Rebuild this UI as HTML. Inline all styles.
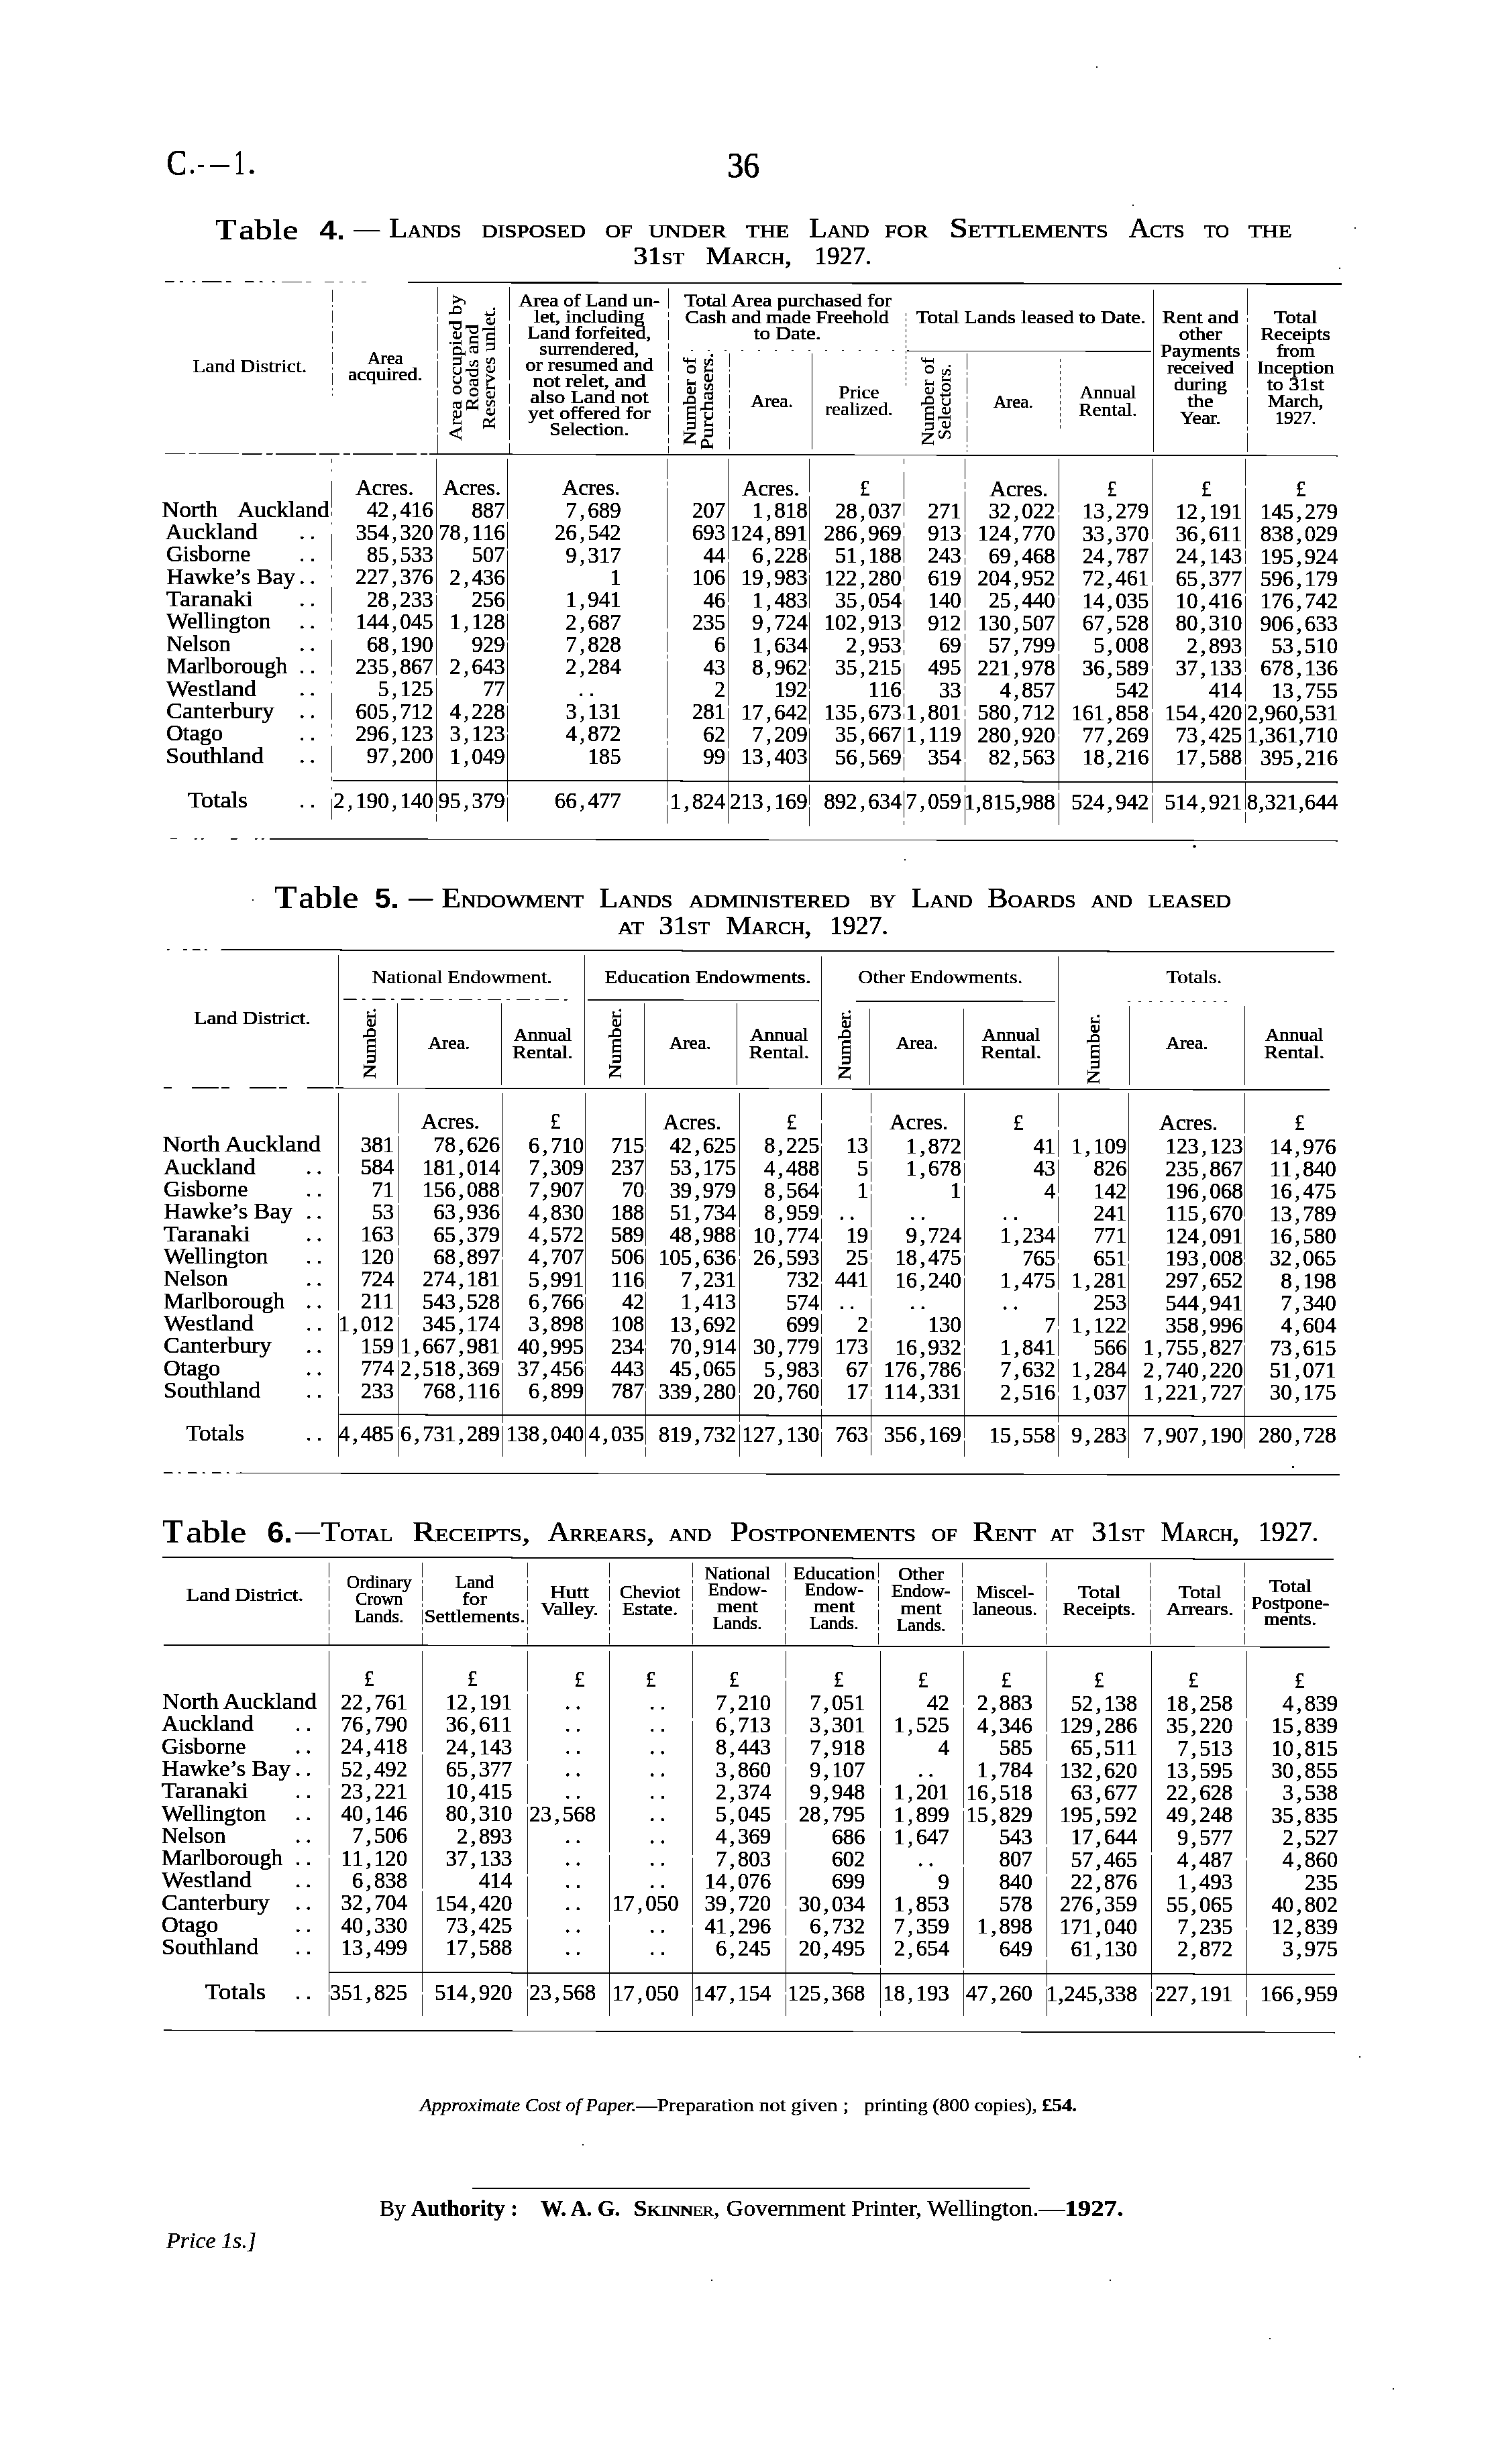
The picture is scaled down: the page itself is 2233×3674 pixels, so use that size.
<!DOCTYPE html>
<html><head><meta charset="utf-8"><title>C.-1 page 36</title>
<style>
html,body{margin:0;padding:0;background:#fff;}
svg{display:block;}
text{font-family:"Liberation Serif",serif;fill:#000;}
.b{stroke:#000;stroke-width:0.6px}
.h{stroke:#000;stroke-width:0.7px}
.l{stroke:#000;stroke-width:0.35px}
.t{stroke:#000;stroke-width:0.8px}
.tb{stroke:none}
.bb{stroke:#000;stroke-width:1.2px}
.v{shape-rendering:crispEdges}
</style></head>
<body>
<svg width="2233" height="3674" viewBox="0 0 2233 3674">
<defs><filter id="bw" x="0" y="0" width="2233" height="3674" filterUnits="userSpaceOnUse" color-interpolation-filters="sRGB"><feComponentTransfer><feFuncA type="discrete" tableValues="0 1"/></feComponentTransfer></filter></defs>
<rect x="0" y="0" width="2233" height="3674" fill="#fff"/>
<g fill="#000" filter="url(#bw)">
<text x="248.5" y="259.5" font-size="53" textLength="30" lengthAdjust="spacingAndGlyphs" class="bb">C</text>
<circle cx="286.5" cy="256" r="2.8"/>
<rect x="295" y="246.5" width="9" height="2.6"/>
<rect x="313" y="246.2" width="29" height="2.6"/>
<text x="349.5" y="259.5" font-size="53" textLength="15" lengthAdjust="spacingAndGlyphs" class="bb">1</text>
<circle cx="375.4" cy="256.3" r="3.3"/>
<text x="1084.5" y="264" font-size="52" textLength="47.5" lengthAdjust="spacingAndGlyphs" class="bb">36</text>
<circle cx="1635" cy="100" r="1.3"/>
<circle cx="1689" cy="306" r="1.5"/>
<circle cx="2020" cy="340" r="1.3"/>
<circle cx="1997" cy="400" r="1.2"/>
<circle cx="1780.6" cy="1262.2" r="2.2"/>
<circle cx="1349" cy="1282" r="1.6"/>
<circle cx="377" cy="1342" r="1.5"/>
<circle cx="1927.4" cy="2187.5" r="1.8"/>
<circle cx="869" cy="3198" r="1.6"/>
<circle cx="2027" cy="3067" r="1.4"/>
<circle cx="1893" cy="3487" r="1.3"/>
<circle cx="2077" cy="3562" r="1.3"/>
<circle cx="1655" cy="3400" r="1.2"/>
<circle cx="1061" cy="3400" r="1"/>
<text x="321" y="357" font-size="45" font-weight="bold" textLength="31.5" lengthAdjust="spacingAndGlyphs" class="tb">T</text>
<text x="356" y="357" font-size="43" textLength="88.5" lengthAdjust="spacingAndGlyphs" class="b">able</text>
<text x="476.2" y="357" font-size="41.5" font-weight="bold" textLength="38.3" lengthAdjust="spacingAndGlyphs" class="tb" style="font-family:'Liberation Sans',sans-serif">4.</text>
<rect x="527" y="343.2" width="39.5" height="2.2"/>
<text x="580.1" y="354" font-size="41.5" textLength="107.4" lengthAdjust="spacingAndGlyphs" class="t"><tspan font-size="41.5">L</tspan><tspan font-size="27.18">ANDS</tspan></text>
<text x="718.2" y="354" font-size="41.5" textLength="154.9" lengthAdjust="spacingAndGlyphs" class="t"><tspan font-size="27.18">DISPOSED</tspan></text>
<text x="902.4" y="354" font-size="41.5" textLength="40.1" lengthAdjust="spacingAndGlyphs" class="t"><tspan font-size="27.18">OF</tspan></text>
<text x="966.7" y="354" font-size="41.5" textLength="116.3" lengthAdjust="spacingAndGlyphs" class="t"><tspan font-size="27.18">UNDER</tspan></text>
<text x="1112.3" y="354" font-size="41.5" textLength="64.1" lengthAdjust="spacingAndGlyphs" class="t"><tspan font-size="27.18">THE</tspan></text>
<text x="1206" y="354" font-size="41.5" textLength="89.5" lengthAdjust="spacingAndGlyphs" class="t"><tspan font-size="41.5">L</tspan><tspan font-size="27.18">AND</tspan></text>
<text x="1318.2" y="354" font-size="41.5" textLength="65.4" lengthAdjust="spacingAndGlyphs" class="t"><tspan font-size="27.18">FOR</tspan></text>
<text x="1415.5" y="354" font-size="41.5" textLength="236.6" lengthAdjust="spacingAndGlyphs" class="t"><tspan font-size="41.5">S</tspan><tspan font-size="27.18">ETTLEMENTS</tspan></text>
<text x="1682.8" y="354" font-size="41.5" textLength="82.8" lengthAdjust="spacingAndGlyphs" class="t"><tspan font-size="41.5">A</tspan><tspan font-size="27.18">CTS</tspan></text>
<text x="1795" y="354" font-size="41.5" textLength="37.4" lengthAdjust="spacingAndGlyphs" class="t"><tspan font-size="27.18">TO</tspan></text>
<text x="1860.4" y="354" font-size="41.5" textLength="65.4" lengthAdjust="spacingAndGlyphs" class="t"><tspan font-size="27.18">THE</tspan></text>
<text x="944" y="394.2" font-size="38.5" textLength="76.1" lengthAdjust="spacingAndGlyphs" class="t"><tspan font-size="38.5">31</tspan><tspan font-size="25.8">ST</tspan></text>
<text x="1052.2" y="394.2" font-size="38.5" textLength="128.1" lengthAdjust="spacingAndGlyphs" class="t"><tspan font-size="38.5">M</tspan><tspan font-size="25.8">ARCH</tspan><tspan font-size="38.5">,</tspan></text>
<text x="1213.7" y="394.2" font-size="38.5" textLength="85.5" lengthAdjust="spacingAndGlyphs" class="t"><tspan font-size="38.5">1927.</tspan></text>
<line x1="246" y1="419.93" x2="546" y2="420.47" stroke="#000" stroke-width="1.3" stroke-dasharray="14 8 5 14 4 10 30 6 8 20"/>
<polygon points="608,419.93 2000,422.44 2000,424.74 608,422.23"/>
<polygon points="1352,522.42 1716,523.08 1716,524.68 1352,524.02"/>
<line x1="1030" y1="522.24" x2="1345" y2="522.81" stroke="#000" stroke-width="1" stroke-dasharray="3 22"/>
<line x1="246" y1="676.43" x2="640" y2="677.14" stroke="#000" stroke-width="1.6" stroke-dasharray="30 6 10 4 60 5"/>
<polygon points="640,676.24 1994,678.68 1994,680.48 640,678.04"/>
<line class="v" x1="495.5" y1="432" x2="495.5" y2="590" stroke="#000" stroke-width="1" stroke-dasharray="18 5 3 5"/>
<line class="v" x1="652.5" y1="428" x2="652.5" y2="676" stroke="#000" stroke-width="1" stroke-dasharray="40 4 8 3"/>
<line class="v" x1="759.5" y1="428" x2="759.5" y2="676" stroke="#000" stroke-width="1" stroke-dasharray="50 5 30 4"/>
<line class="v" x1="996.5" y1="430" x2="996.5" y2="676" stroke="#000" stroke-width="1" stroke-dasharray="30 5 8 4"/>
<line class="v" x1="1087.5" y1="527" x2="1087.5" y2="670" stroke="#000" stroke-width="1" stroke-dasharray="20 4 3 4"/>
<rect class="v" x="1210" y="527" width="1" height="143"/>
<line class="v" x1="1350.5" y1="467" x2="1350.5" y2="578" stroke="#000" stroke-width="1" stroke-dasharray="4 4"/>
<line class="v" x1="1441.5" y1="527" x2="1441.5" y2="674" stroke="#000" stroke-width="1" stroke-dasharray="24 4 4 4"/>
<line class="v" x1="1580.5" y1="535" x2="1580.5" y2="641" stroke="#000" stroke-width="1" stroke-dasharray="5 4"/>
<rect class="v" x="1719" y="432" width="1" height="242"/>
<line class="v" x1="1859.5" y1="430" x2="1859.5" y2="674" stroke="#000" stroke-width="1" stroke-dasharray="40 4 6 4"/>
<text x="287.7" y="554.7" font-size="26.5" textLength="169.6" lengthAdjust="spacingAndGlyphs" class="l">Land District.</text>
<text x="574.4" y="542.6" font-size="26.5" text-anchor="middle" textLength="53.3" lengthAdjust="spacingAndGlyphs" class="h">Area</text>
<text x="574.4" y="567.3" font-size="26.5" text-anchor="middle" textLength="110.7" lengthAdjust="spacingAndGlyphs" class="h">acquired.</text>
<text x="0" y="0" transform="translate(687.7 657) rotate(-90)" font-size="27" textLength="218" lengthAdjust="spacingAndGlyphs" class="l">Area occupied by</text>
<text x="0" y="0" transform="translate(713 613) rotate(-90)" font-size="27" textLength="129.5" lengthAdjust="spacingAndGlyphs" class="l">Roads and</text>
<text x="0" y="0" transform="translate(737.7 640.8) rotate(-90)" font-size="27" textLength="184.3" lengthAdjust="spacingAndGlyphs" class="l">Reserves unlet.</text>
<text x="878.5" y="457.3" font-size="26.5" text-anchor="middle" textLength="210.3" lengthAdjust="spacingAndGlyphs" class="h">Area of Land un-</text>
<text x="878.5" y="481.3" font-size="26.5" text-anchor="middle" textLength="164.3" lengthAdjust="spacingAndGlyphs" class="h">let, including</text>
<text x="878.5" y="504.5" font-size="26.5" text-anchor="middle" textLength="184.3" lengthAdjust="spacingAndGlyphs" class="h">Land forfeited,</text>
<text x="878.5" y="528.5" font-size="26.5" text-anchor="middle" textLength="148.3" lengthAdjust="spacingAndGlyphs" class="h">surrendered,</text>
<text x="878.5" y="553" font-size="26.5" text-anchor="middle" textLength="190.3" lengthAdjust="spacingAndGlyphs" class="h">or resumed and</text>
<text x="878.5" y="576.5" font-size="26.5" text-anchor="middle" textLength="168.3" lengthAdjust="spacingAndGlyphs" class="h">not relet, and</text>
<text x="878.5" y="600.5" font-size="26.5" text-anchor="middle" textLength="176.3" lengthAdjust="spacingAndGlyphs" class="h">also Land not</text>
<text x="878.5" y="624.5" font-size="26.5" text-anchor="middle" textLength="182.3" lengthAdjust="spacingAndGlyphs" class="h">yet offered for</text>
<text x="878.5" y="648.5" font-size="26.5" text-anchor="middle" textLength="118.3" lengthAdjust="spacingAndGlyphs" class="h">Selection.</text>
<text x="1174.7" y="456.6" font-size="26.5" text-anchor="middle" textLength="309" lengthAdjust="spacingAndGlyphs" class="h">Total Area purchased for</text>
<text x="1173.3" y="481.5" font-size="26.5" text-anchor="middle" textLength="303.5" lengthAdjust="spacingAndGlyphs" class="h">Cash and made Freehold</text>
<text x="1173.7" y="505.5" font-size="26.5" text-anchor="middle" textLength="100" lengthAdjust="spacingAndGlyphs" class="h">to Date.</text>
<text x="0" y="0" transform="translate(1037 663.8) rotate(-90)" font-size="27" textLength="130.6" lengthAdjust="spacingAndGlyphs" class="h">Number of</text>
<text x="0" y="0" transform="translate(1062.5 671.05) rotate(-90)" font-size="27" textLength="145.3" lengthAdjust="spacingAndGlyphs" class="h">Purchasers.</text>
<text x="1150.7" y="606.8" font-size="26.5" text-anchor="middle" textLength="63" lengthAdjust="spacingAndGlyphs" class="h">Area.</text>
<text x="1280.5" y="593.8" font-size="26.5" text-anchor="middle" textLength="60" lengthAdjust="spacingAndGlyphs" class="l">Price</text>
<text x="1280.5" y="618.8" font-size="26.5" text-anchor="middle" textLength="100.6" lengthAdjust="spacingAndGlyphs" class="l">realized.</text>
<text x="1536.8" y="482.1" font-size="26.5" text-anchor="middle" textLength="342.5" lengthAdjust="spacingAndGlyphs" class="h">Total Lands leased to Date.</text>
<text x="0" y="0" transform="translate(1392 665) rotate(-90)" font-size="27" textLength="132" lengthAdjust="spacingAndGlyphs" class="l">Number of</text>
<text x="0" y="0" transform="translate(1416.6 656) rotate(-90)" font-size="27" textLength="114" lengthAdjust="spacingAndGlyphs" class="l">Selectors.</text>
<text x="1510.4" y="607.7" font-size="26.5" text-anchor="middle" textLength="59" lengthAdjust="spacingAndGlyphs" class="h">Area.</text>
<text x="1651.5" y="593.8" font-size="26.5" text-anchor="middle" textLength="84" lengthAdjust="spacingAndGlyphs" class="l">Annual</text>
<text x="1651.5" y="620.3" font-size="26.5" text-anchor="middle" textLength="87" lengthAdjust="spacingAndGlyphs" class="l">Rental.</text>
<text x="1789.5" y="482" font-size="26.5" text-anchor="middle" textLength="114" lengthAdjust="spacingAndGlyphs" class="h">Rent and</text>
<text x="1789.5" y="507.03" font-size="26.5" text-anchor="middle" textLength="64" lengthAdjust="spacingAndGlyphs" class="h">other</text>
<text x="1789.5" y="532.06" font-size="26.5" text-anchor="middle" textLength="119" lengthAdjust="spacingAndGlyphs" class="h">Payments</text>
<text x="1789.5" y="557.09" font-size="26.5" text-anchor="middle" textLength="99.5" lengthAdjust="spacingAndGlyphs" class="h">received</text>
<text x="1789.5" y="582.12" font-size="26.5" text-anchor="middle" textLength="79" lengthAdjust="spacingAndGlyphs" class="h">during</text>
<text x="1789.5" y="607.15" font-size="26.5" text-anchor="middle" textLength="38.5" lengthAdjust="spacingAndGlyphs" class="h">the</text>
<text x="1789.5" y="632.18" font-size="26.5" text-anchor="middle" textLength="61" lengthAdjust="spacingAndGlyphs" class="h">Year.</text>
<text x="1931.3" y="482" font-size="26.5" text-anchor="middle" textLength="64" lengthAdjust="spacingAndGlyphs" class="h">Total</text>
<text x="1931.3" y="507.03" font-size="26.5" text-anchor="middle" textLength="103.6" lengthAdjust="spacingAndGlyphs" class="h">Receipts</text>
<text x="1931.3" y="532.06" font-size="26.5" text-anchor="middle" textLength="57" lengthAdjust="spacingAndGlyphs" class="h">from</text>
<text x="1931.3" y="557.09" font-size="26.5" text-anchor="middle" textLength="114.6" lengthAdjust="spacingAndGlyphs" class="h">Inception</text>
<text x="1931.3" y="582.12" font-size="26.5" text-anchor="middle" textLength="85" lengthAdjust="spacingAndGlyphs" class="h">to 31st</text>
<text x="1931.3" y="607.15" font-size="26.5" text-anchor="middle" textLength="83" lengthAdjust="spacingAndGlyphs" class="h">March,</text>
<text x="1931.3" y="632.18" font-size="26.5" text-anchor="middle" textLength="61" lengthAdjust="spacingAndGlyphs" class="h">1927.</text>
<text x="530.5" y="737.84" font-size="33" textLength="86.2" lengthAdjust="spacingAndGlyphs" class="b">Acres.</text>
<text x="660.6" y="738.08" font-size="33" textLength="86.1" lengthAdjust="spacingAndGlyphs" class="b">Acres.</text>
<text x="838" y="738.4" font-size="33" textLength="86.3" lengthAdjust="spacingAndGlyphs" class="b">Acres.</text>
<text x="1106.5" y="738.88" font-size="33" textLength="85" lengthAdjust="spacingAndGlyphs" class="b">Acres.</text>
<text x="1475.4" y="739.55" font-size="33" textLength="86.8" lengthAdjust="spacingAndGlyphs" class="b">Acres.</text>
<text x="1282" y="739.2" font-size="33" textLength="14.5" lengthAdjust="spacingAndGlyphs" class="b">£</text>
<text x="1650.6" y="739.86" font-size="33" textLength="14.5" lengthAdjust="spacingAndGlyphs" class="b">£</text>
<text x="1791" y="740.11" font-size="33" textLength="14.5" lengthAdjust="spacingAndGlyphs" class="b">£</text>
<text x="1932" y="740.37" font-size="33" textLength="14.5" lengthAdjust="spacingAndGlyphs" class="b">£</text>
<text x="241.5" y="770.62" font-size="33" textLength="83" lengthAdjust="spacingAndGlyphs" class="b">North</text>
<text x="354" y="770.83" font-size="33" textLength="136.5" lengthAdjust="spacingAndGlyphs" class="b">Auckland</text>
<text x="546.8 563.3 583.92 596.3 612.8 629.3" y="771.35" font-size="33" class="b">42,416</text>
<text x="703.3 719.8 736.3" y="771.54" font-size="33" class="b">887</text>
<text x="843.3 863.92 876.3 892.8 909.3" y="771.86" font-size="33" class="b">7,689</text>
<text x="1031.8 1048.3 1064.8" y="772.13" font-size="33" class="b">207</text>
<text x="1121.3 1141.92 1154.3 1170.8 1187.3" y="772.36" font-size="33" class="b">1,818</text>
<text x="1244.8 1261.3 1281.92 1294.3 1310.8 1327.3" y="772.61" font-size="33" class="b">28,037</text>
<text x="1383.3 1399.8 1416.3" y="772.77" font-size="33" class="b">271</text>
<text x="1473.8 1490.3 1510.92 1523.3 1539.8 1556.3" y="773.02" font-size="33" class="b">32,022</text>
<text x="1613.5 1630 1650.62 1663 1679.5 1696" y="773.27" font-size="33" class="b">13,279</text>
<text x="1752.5 1769 1789.62 1802 1818.5 1835" y="773.52" font-size="33" class="b">12,191</text>
<text x="1878.8 1895.3 1911.8 1932.42 1944.8 1961.3 1977.8" y="773.78" font-size="33" class="b">145,279</text>
<text x="246.7" y="803.99" font-size="33" textLength="136.8" lengthAdjust="spacingAndGlyphs" class="b">Auckland</text>
<circle cx="450.3" cy="801.76" r="2.3"/>
<circle cx="465.8" cy="801.76" r="2.3"/>
<text x="530.3 546.8 563.3 583.92 596.3 612.8 629.3" y="804.71" font-size="33" class="b">354,320</text>
<text x="653.8 670.3 690.92 703.3 719.8 736.3" y="804.9" font-size="33" class="b">78,116</text>
<text x="826.8 843.3 863.92 876.3 892.8 909.3" y="805.22" font-size="33" class="b">26,542</text>
<text x="1031.8 1048.3 1064.8" y="805.49" font-size="33" class="b">693</text>
<text x="1088.3 1104.8 1121.3 1141.92 1154.3 1170.8 1187.3" y="805.72" font-size="33" class="b">124,891</text>
<text x="1228.3 1244.8 1261.3 1281.92 1294.3 1310.8 1327.3" y="805.97" font-size="33" class="b">286,969</text>
<text x="1383.3 1399.8 1416.3" y="806.13" font-size="33" class="b">913</text>
<text x="1457.3 1473.8 1490.3 1510.92 1523.3 1539.8 1556.3" y="806.38" font-size="33" class="b">124,770</text>
<text x="1613.5 1630 1650.62 1663 1679.5 1696" y="806.63" font-size="33" class="b">33,370</text>
<text x="1752.5 1769 1789.62 1802 1818.5 1835" y="806.88" font-size="33" class="b">36,611</text>
<text x="1878.8 1895.3 1911.8 1932.42 1944.8 1961.3 1977.8" y="807.14" font-size="33" class="b">838,029</text>
<text x="248" y="837.36" font-size="33" textLength="125.5" lengthAdjust="spacingAndGlyphs" class="b">Gisborne</text>
<circle cx="450.3" cy="835.12" r="2.3"/>
<circle cx="465.8" cy="835.12" r="2.3"/>
<text x="546.8 563.3 583.92 596.3 612.8 629.3" y="838.07" font-size="33" class="b">85,533</text>
<text x="703.3 719.8 736.3" y="838.26" font-size="33" class="b">507</text>
<text x="843.3 863.92 876.3 892.8 909.3" y="838.58" font-size="33" class="b">9,317</text>
<text x="1048.3 1064.8" y="838.85" font-size="33" class="b">44</text>
<text x="1121.3 1141.92 1154.3 1170.8 1187.3" y="839.08" font-size="33" class="b">6,228</text>
<text x="1244.8 1261.3 1281.92 1294.3 1310.8 1327.3" y="839.33" font-size="33" class="b">51,188</text>
<text x="1383.3 1399.8 1416.3" y="839.49" font-size="33" class="b">243</text>
<text x="1473.8 1490.3 1510.92 1523.3 1539.8 1556.3" y="839.74" font-size="33" class="b">69,468</text>
<text x="1613.5 1630 1650.62 1663 1679.5 1696" y="839.99" font-size="33" class="b">24,787</text>
<text x="1752.5 1769 1789.62 1802 1818.5 1835" y="840.24" font-size="33" class="b">24,143</text>
<text x="1878.8 1895.3 1911.8 1932.42 1944.8 1961.3 1977.8" y="840.5" font-size="33" class="b">195,924</text>
<text x="248" y="870.72" font-size="33" textLength="192.3" lengthAdjust="spacingAndGlyphs" class="b">Hawke’s Bay</text>
<circle cx="450.3" cy="868.48" r="2.3"/>
<circle cx="465.8" cy="868.48" r="2.3"/>
<text x="530.3 546.8 563.3 583.92 596.3 612.8 629.3" y="871.43" font-size="33" class="b">227,376</text>
<text x="670.3 690.92 703.3 719.8 736.3" y="871.62" font-size="33" class="b">2,436</text>
<text x="909.3" y="871.94" font-size="33" class="b">1</text>
<text x="1031.8 1048.3 1064.8" y="872.21" font-size="33" class="b">106</text>
<text x="1104.8 1121.3 1141.92 1154.3 1170.8 1187.3" y="872.44" font-size="33" class="b">19,983</text>
<text x="1228.3 1244.8 1261.3 1281.92 1294.3 1310.8 1327.3" y="872.69" font-size="33" class="b">122,280</text>
<text x="1383.3 1399.8 1416.3" y="872.85" font-size="33" class="b">619</text>
<text x="1457.3 1473.8 1490.3 1510.92 1523.3 1539.8 1556.3" y="873.1" font-size="33" class="b">204,952</text>
<text x="1613.5 1630 1650.62 1663 1679.5 1696" y="873.35" font-size="33" class="b">72,461</text>
<text x="1752.5 1769 1789.62 1802 1818.5 1835" y="873.6" font-size="33" class="b">65,377</text>
<text x="1878.8 1895.3 1911.8 1932.42 1944.8 1961.3 1977.8" y="873.86" font-size="33" class="b">596,179</text>
<text x="248" y="904.08" font-size="33" textLength="128.9" lengthAdjust="spacingAndGlyphs" class="b">Taranaki</text>
<circle cx="450.3" cy="901.84" r="2.3"/>
<circle cx="465.8" cy="901.84" r="2.3"/>
<text x="546.8 563.3 583.92 596.3 612.8 629.3" y="904.79" font-size="33" class="b">28,233</text>
<text x="703.3 719.8 736.3" y="904.98" font-size="33" class="b">256</text>
<text x="843.3 863.92 876.3 892.8 909.3" y="905.3" font-size="33" class="b">1,941</text>
<text x="1048.3 1064.8" y="905.57" font-size="33" class="b">46</text>
<text x="1121.3 1141.92 1154.3 1170.8 1187.3" y="905.8" font-size="33" class="b">1,483</text>
<text x="1244.8 1261.3 1281.92 1294.3 1310.8 1327.3" y="906.05" font-size="33" class="b">35,054</text>
<text x="1383.3 1399.8 1416.3" y="906.21" font-size="33" class="b">140</text>
<text x="1473.8 1490.3 1510.92 1523.3 1539.8 1556.3" y="906.46" font-size="33" class="b">25,440</text>
<text x="1613.5 1630 1650.62 1663 1679.5 1696" y="906.71" font-size="33" class="b">14,035</text>
<text x="1752.5 1769 1789.62 1802 1818.5 1835" y="906.96" font-size="33" class="b">10,416</text>
<text x="1878.8 1895.3 1911.8 1932.42 1944.8 1961.3 1977.8" y="907.22" font-size="33" class="b">176,742</text>
<text x="248" y="937.44" font-size="33" textLength="155.6" lengthAdjust="spacingAndGlyphs" class="b">Wellington</text>
<circle cx="450.3" cy="935.2" r="2.3"/>
<circle cx="465.8" cy="935.2" r="2.3"/>
<text x="530.3 546.8 563.3 583.92 596.3 612.8 629.3" y="938.15" font-size="33" class="b">144,045</text>
<text x="670.3 690.92 703.3 719.8 736.3" y="938.34" font-size="33" class="b">1,128</text>
<text x="843.3 863.92 876.3 892.8 909.3" y="938.65" font-size="33" class="b">2,687</text>
<text x="1031.8 1048.3 1064.8" y="938.93" font-size="33" class="b">235</text>
<text x="1121.3 1141.92 1154.3 1170.8 1187.3" y="939.16" font-size="33" class="b">9,724</text>
<text x="1228.3 1244.8 1261.3 1281.92 1294.3 1310.8 1327.3" y="939.41" font-size="33" class="b">102,913</text>
<text x="1383.3 1399.8 1416.3" y="939.57" font-size="33" class="b">912</text>
<text x="1457.3 1473.8 1490.3 1510.92 1523.3 1539.8 1556.3" y="939.82" font-size="33" class="b">130,507</text>
<text x="1613.5 1630 1650.62 1663 1679.5 1696" y="940.07" font-size="33" class="b">67,528</text>
<text x="1752.5 1769 1789.62 1802 1818.5 1835" y="940.32" font-size="33" class="b">80,310</text>
<text x="1878.8 1895.3 1911.8 1932.42 1944.8 1961.3 1977.8" y="940.58" font-size="33" class="b">906,633</text>
<text x="248" y="970.8" font-size="33" textLength="95.5" lengthAdjust="spacingAndGlyphs" class="b">Nelson</text>
<circle cx="450.3" cy="968.56" r="2.3"/>
<circle cx="465.8" cy="968.56" r="2.3"/>
<text x="546.8 563.3 583.92 596.3 612.8 629.3" y="971.51" font-size="33" class="b">68,190</text>
<text x="703.3 719.8 736.3" y="971.7" font-size="33" class="b">929</text>
<text x="843.3 863.92 876.3 892.8 909.3" y="972.01" font-size="33" class="b">7,828</text>
<text x="1064.8" y="972.29" font-size="33" class="b">6</text>
<text x="1121.3 1141.92 1154.3 1170.8 1187.3" y="972.52" font-size="33" class="b">1,634</text>
<text x="1261.3 1281.92 1294.3 1310.8 1327.3" y="972.77" font-size="33" class="b">2,953</text>
<text x="1399.8 1416.3" y="972.93" font-size="33" class="b">69</text>
<text x="1473.8 1490.3 1510.92 1523.3 1539.8 1556.3" y="973.18" font-size="33" class="b">57,799</text>
<text x="1630 1650.62 1663 1679.5 1696" y="973.43" font-size="33" class="b">5,008</text>
<text x="1769 1789.62 1802 1818.5 1835" y="973.68" font-size="33" class="b">2,893</text>
<text x="1895.3 1911.8 1932.42 1944.8 1961.3 1977.8" y="973.94" font-size="33" class="b">53,510</text>
<text x="248" y="1004.16" font-size="33" textLength="180.3" lengthAdjust="spacingAndGlyphs" class="b">Marlborough</text>
<circle cx="450.3" cy="1001.92" r="2.3"/>
<circle cx="465.8" cy="1001.92" r="2.3"/>
<text x="530.3 546.8 563.3 583.92 596.3 612.8 629.3" y="1004.87" font-size="33" class="b">235,867</text>
<text x="670.3 690.92 703.3 719.8 736.3" y="1005.06" font-size="33" class="b">2,643</text>
<text x="843.3 863.92 876.3 892.8 909.3" y="1005.38" font-size="33" class="b">2,284</text>
<text x="1048.3 1064.8" y="1005.65" font-size="33" class="b">43</text>
<text x="1121.3 1141.92 1154.3 1170.8 1187.3" y="1005.88" font-size="33" class="b">8,962</text>
<text x="1244.8 1261.3 1281.92 1294.3 1310.8 1327.3" y="1006.13" font-size="33" class="b">35,215</text>
<text x="1383.3 1399.8 1416.3" y="1006.29" font-size="33" class="b">495</text>
<text x="1457.3 1473.8 1490.3 1510.92 1523.3 1539.8 1556.3" y="1006.54" font-size="33" class="b">221,978</text>
<text x="1613.5 1630 1650.62 1663 1679.5 1696" y="1006.79" font-size="33" class="b">36,589</text>
<text x="1752.5 1769 1789.62 1802 1818.5 1835" y="1007.04" font-size="33" class="b">37,133</text>
<text x="1878.8 1895.3 1911.8 1932.42 1944.8 1961.3 1977.8" y="1007.3" font-size="33" class="b">678,136</text>
<text x="248" y="1037.52" font-size="33" textLength="134.2" lengthAdjust="spacingAndGlyphs" class="b">Westland</text>
<circle cx="450.3" cy="1035.28" r="2.3"/>
<circle cx="465.8" cy="1035.28" r="2.3"/>
<text x="563.3 583.92 596.3 612.8 629.3" y="1038.23" font-size="33" class="b">5,125</text>
<text x="719.8 736.3" y="1038.42" font-size="33" class="b">77</text>
<circle cx="866.3" cy="1036.03" r="2.3"/>
<circle cx="881.8" cy="1036.03" r="2.3"/>
<text x="1064.8" y="1039.01" font-size="33" class="b">2</text>
<text x="1154.3 1170.8 1187.3" y="1039.24" font-size="33" class="b">192</text>
<text x="1294.3 1310.8 1327.3" y="1039.49" font-size="33" class="b">116</text>
<text x="1399.8 1416.3" y="1039.65" font-size="33" class="b">33</text>
<text x="1490.3 1510.92 1523.3 1539.8 1556.3" y="1039.9" font-size="33" class="b">4,857</text>
<text x="1663 1679.5 1696" y="1040.15" font-size="33" class="b">542</text>
<text x="1802 1818.5 1835" y="1040.4" font-size="33" class="b">414</text>
<text x="1895.3 1911.8 1932.42 1944.8 1961.3 1977.8" y="1040.66" font-size="33" class="b">13,755</text>
<text x="248" y="1070.88" font-size="33" textLength="160.9" lengthAdjust="spacingAndGlyphs" class="b">Canterbury</text>
<circle cx="450.3" cy="1068.64" r="2.3"/>
<circle cx="465.8" cy="1068.64" r="2.3"/>
<text x="530.3 546.8 563.3 583.92 596.3 612.8 629.3" y="1071.59" font-size="33" class="b">605,712</text>
<text x="670.3 690.92 703.3 719.8 736.3" y="1071.78" font-size="33" class="b">4,228</text>
<text x="843.3 863.92 876.3 892.8 909.3" y="1072.1" font-size="33" class="b">3,131</text>
<text x="1031.8 1048.3 1064.8" y="1072.37" font-size="33" class="b">281</text>
<text x="1104.8 1121.3 1141.92 1154.3 1170.8 1187.3" y="1072.6" font-size="33" class="b">17,642</text>
<text x="1228.3 1244.8 1261.3 1281.92 1294.3 1310.8 1327.3" y="1072.85" font-size="33" class="b">135,673</text>
<text x="1350.3 1370.92 1383.3 1399.8 1416.3" y="1073.01" font-size="33" class="b">1,801</text>
<text x="1457.3 1473.8 1490.3 1510.92 1523.3 1539.8 1556.3" y="1073.26" font-size="33" class="b">580,712</text>
<text x="1597 1613.5 1630 1650.62 1663 1679.5 1696" y="1073.51" font-size="33" class="b">161,858</text>
<text x="1736 1752.5 1769 1789.62 1802 1818.5 1835" y="1073.76" font-size="33" class="b">154,420</text>
<text x="1858.8 1876.17 1885.3 1901.8 1918.3 1935.67 1944.8 1961.3 1977.8" y="1074.02" font-size="33" class="b">2,960,531</text>
<text x="248" y="1104.24" font-size="33" textLength="84.1" lengthAdjust="spacingAndGlyphs" class="b">Otago</text>
<circle cx="450.3" cy="1102" r="2.3"/>
<circle cx="465.8" cy="1102" r="2.3"/>
<text x="530.3 546.8 563.3 583.92 596.3 612.8 629.3" y="1104.95" font-size="33" class="b">296,123</text>
<text x="670.3 690.92 703.3 719.8 736.3" y="1105.14" font-size="33" class="b">3,123</text>
<text x="843.3 863.92 876.3 892.8 909.3" y="1105.45" font-size="33" class="b">4,872</text>
<text x="1048.3 1064.8" y="1105.73" font-size="33" class="b">62</text>
<text x="1121.3 1141.92 1154.3 1170.8 1187.3" y="1105.96" font-size="33" class="b">7,209</text>
<text x="1244.8 1261.3 1281.92 1294.3 1310.8 1327.3" y="1106.21" font-size="33" class="b">35,667</text>
<text x="1350.3 1370.92 1383.3 1399.8 1416.3" y="1106.37" font-size="33" class="b">1,119</text>
<text x="1457.3 1473.8 1490.3 1510.92 1523.3 1539.8 1556.3" y="1106.62" font-size="33" class="b">280,920</text>
<text x="1613.5 1630 1650.62 1663 1679.5 1696" y="1106.87" font-size="33" class="b">77,269</text>
<text x="1752.5 1769 1789.62 1802 1818.5 1835" y="1107.12" font-size="33" class="b">73,425</text>
<text x="1858.8 1876.17 1885.3 1901.8 1918.3 1935.67 1944.8 1961.3 1977.8" y="1107.38" font-size="33" class="b">1,361,710</text>
<text x="247.3" y="1137.6" font-size="33" textLength="145.4" lengthAdjust="spacingAndGlyphs" class="b">Southland</text>
<circle cx="450.3" cy="1135.36" r="2.3"/>
<circle cx="465.8" cy="1135.36" r="2.3"/>
<text x="546.8 563.3 583.92 596.3 612.8 629.3" y="1138.31" font-size="33" class="b">97,200</text>
<text x="670.3 690.92 703.3 719.8 736.3" y="1138.5" font-size="33" class="b">1,049</text>
<text x="876.3 892.8 909.3" y="1138.82" font-size="33" class="b">185</text>
<text x="1048.3 1064.8" y="1139.09" font-size="33" class="b">99</text>
<text x="1104.8 1121.3 1141.92 1154.3 1170.8 1187.3" y="1139.32" font-size="33" class="b">13,403</text>
<text x="1244.8 1261.3 1281.92 1294.3 1310.8 1327.3" y="1139.57" font-size="33" class="b">56,569</text>
<text x="1383.3 1399.8 1416.3" y="1139.73" font-size="33" class="b">354</text>
<text x="1473.8 1490.3 1510.92 1523.3 1539.8 1556.3" y="1139.98" font-size="33" class="b">82,563</text>
<text x="1613.5 1630 1650.62 1663 1679.5 1696" y="1140.23" font-size="33" class="b">18,216</text>
<text x="1752.5 1769 1789.62 1802 1818.5 1835" y="1140.48" font-size="33" class="b">17,588</text>
<text x="1878.8 1895.3 1911.8 1932.42 1944.8 1961.3 1977.8" y="1140.74" font-size="33" class="b">395,216</text>
<text x="280" y="1204.29" font-size="33" textLength="89.2" lengthAdjust="spacingAndGlyphs" class="b">Totals</text>
<circle cx="450.3" cy="1202" r="2.3"/>
<circle cx="465.8" cy="1202" r="2.3"/>
<text x="497.3 517.92 530.3 546.8 563.3 583.92 596.3 612.8 629.3" y="1204.95" font-size="33" class="b">2,190,140</text>
<text x="653.8 670.3 690.92 703.3 719.8 736.3" y="1205.14" font-size="33" class="b">95,379</text>
<text x="826.8 843.3 863.92 876.3 892.8 909.3" y="1205.45" font-size="33" class="b">66,477</text>
<text x="998.8 1019.42 1031.8 1048.3 1064.8" y="1205.73" font-size="33" class="b">1,824</text>
<text x="1088.3 1104.8 1121.3 1141.92 1154.3 1170.8 1187.3" y="1205.96" font-size="33" class="b">213,169</text>
<text x="1228.3 1244.8 1261.3 1281.92 1294.3 1310.8 1327.3" y="1206.21" font-size="33" class="b">892,634</text>
<text x="1350.3 1370.92 1383.3 1399.8 1416.3" y="1206.37" font-size="33" class="b">7,059</text>
<text x="1437.3 1454.67 1463.8 1480.3 1496.8 1514.17 1523.3 1539.8 1556.3" y="1206.62" font-size="33" class="b">1,815,988</text>
<text x="1597 1613.5 1630 1650.62 1663 1679.5 1696" y="1206.87" font-size="33" class="b">524,942</text>
<text x="1736 1752.5 1769 1789.62 1802 1818.5 1835" y="1207.12" font-size="33" class="b">514,921</text>
<text x="1858.8 1876.17 1885.3 1901.8 1918.3 1935.67 1944.8 1961.3 1977.8" y="1207.38" font-size="33" class="b">8,321,644</text>
<polygon points="496,1162.68 1994,1165.38 1994,1167.38 496,1164.68"/>
<line x1="254" y1="1250.65" x2="402" y2="1250.91" stroke="#000" stroke-width="1.4" stroke-dasharray="10 26 4 6 4 40"/>
<polygon points="402,1250.11 1994,1252.98 1994,1254.58 402,1251.71"/>
<line class="v" x1="494.5" y1="684" x2="494.5" y2="1222" stroke="#000" stroke-width="1" stroke-dasharray="6 10 3 14 40 6"/>
<line class="v" x1="650.5" y1="684" x2="650.5" y2="1225" stroke="#000" stroke-width="1" stroke-dasharray="200 3 120 4"/>
<line class="v" x1="756.5" y1="684" x2="756.5" y2="1225" stroke="#000" stroke-width="1" stroke-dasharray="90 4 40 3"/>
<line class="v" x1="994.5" y1="684" x2="994.5" y2="1228" stroke="#000" stroke-width="1" stroke-dasharray="30 4 6 4 80 5"/>
<line class="v" x1="1085.5" y1="684" x2="1085.5" y2="1228" stroke="#000" stroke-width="1" stroke-dasharray="150 4 60 4"/>
<line class="v" x1="1206.5" y1="684" x2="1206.5" y2="1232" stroke="#000" stroke-width="1" stroke-dasharray="50 6 80 4 30 3"/>
<line class="v" x1="1347.5" y1="684" x2="1347.5" y2="1230" stroke="#000" stroke-width="1" stroke-dasharray="8 12 40 5 20 10"/>
<line class="v" x1="1438.5" y1="684" x2="1438.5" y2="1230" stroke="#000" stroke-width="1" stroke-dasharray="30 5 10 4 60 4"/>
<line class="v" x1="1578.5" y1="684" x2="1578.5" y2="1230" stroke="#000" stroke-width="1" stroke-dasharray="80 4 120 3"/>
<line class="v" x1="1717.5" y1="684" x2="1717.5" y2="1227" stroke="#000" stroke-width="1" stroke-dasharray="120 4 60 5"/>
<line class="v" x1="1856.5" y1="684" x2="1856.5" y2="1227" stroke="#000" stroke-width="1" stroke-dasharray="40 4 90 3 20 4"/>
<text x="409.1" y="1354.3" font-size="49" font-weight="bold" textLength="33.4" lengthAdjust="spacingAndGlyphs" class="tb">T</text>
<text x="444.9" y="1354.3" font-size="46" textLength="89.3" lengthAdjust="spacingAndGlyphs" class="b">able</text>
<text x="558.4" y="1354.3" font-size="42.5" font-weight="bold" textLength="36.1" lengthAdjust="spacingAndGlyphs" class="tb" style="font-family:'Liberation Sans',sans-serif">5.</text>
<rect x="609" y="1340.5" width="36.5" height="2.2"/>
<text x="658.4" y="1352.5" font-size="41.5" textLength="211.9" lengthAdjust="spacingAndGlyphs" class="t"><tspan font-size="41.5">E</tspan><tspan font-size="27.18">NDOWMENT</tspan></text>
<text x="893.4" y="1352.5" font-size="41.5" textLength="108.8" lengthAdjust="spacingAndGlyphs" class="t"><tspan font-size="41.5">L</tspan><tspan font-size="27.18">ANDS</tspan></text>
<text x="1026.7" y="1352.5" font-size="41.5" textLength="240.3" lengthAdjust="spacingAndGlyphs" class="t"><tspan font-size="27.18">ADMINISTERED</tspan></text>
<text x="1297" y="1352.5" font-size="41.5" textLength="37.8" lengthAdjust="spacingAndGlyphs" class="t"><tspan font-size="27.18">BY</tspan></text>
<text x="1358.8" y="1352.5" font-size="41.5" textLength="90.8" lengthAdjust="spacingAndGlyphs" class="t"><tspan font-size="41.5">L</tspan><tspan font-size="27.18">AND</tspan></text>
<text x="1472.3" y="1352.5" font-size="41.5" textLength="131.2" lengthAdjust="spacingAndGlyphs" class="t"><tspan font-size="41.5">B</tspan><tspan font-size="27.18">OARDS</tspan></text>
<text x="1626.4" y="1352.5" font-size="41.5" textLength="61.7" lengthAdjust="spacingAndGlyphs" class="t"><tspan font-size="27.18">AND</tspan></text>
<text x="1711.9" y="1352.5" font-size="41.5" textLength="123.4" lengthAdjust="spacingAndGlyphs" class="t"><tspan font-size="27.18">LEASED</tspan></text>
<text x="920.8" y="1392.6" font-size="40" textLength="39.5" lengthAdjust="spacingAndGlyphs" class="t"><tspan font-size="26.8">AT</tspan></text>
<text x="982.2" y="1392.6" font-size="40" textLength="76" lengthAdjust="spacingAndGlyphs" class="t"><tspan font-size="40">31</tspan><tspan font-size="26.8">ST</tspan></text>
<text x="1082.3" y="1392.6" font-size="40" textLength="127.6" lengthAdjust="spacingAndGlyphs" class="t"><tspan font-size="40">M</tspan><tspan font-size="26.8">ARCH</tspan><tspan font-size="40">,</tspan></text>
<text x="1236.9" y="1392.6" font-size="40" textLength="87.1" lengthAdjust="spacingAndGlyphs" class="t"><tspan font-size="40">1927.</tspan></text>
<line x1="249" y1="1415.94" x2="330" y2="1416.08" stroke="#000" stroke-width="1.3" stroke-dasharray="4 20 6 8 12 6"/>
<polygon points="330,1415.18 1989,1418.17 1989,1420.17 330,1417.18"/>
<line x1="512" y1="1490.11" x2="850" y2="1490.72" stroke="#000" stroke-width="1.4" stroke-dasharray="20 8 5 10"/>
<polygon points="876,1490.17 1221,1490.79 1221,1492.39 876,1491.77"/>
<polygon points="1276,1492.14 1573,1492.67 1573,1494.17 1276,1493.64"/>
<line x1="1681" y1="1493.22" x2="1830" y2="1493.48" stroke="#000" stroke-width="1" stroke-dasharray="4 12"/>
<line x1="244" y1="1621.83" x2="500" y2="1622.29" stroke="#000" stroke-width="1.6" stroke-dasharray="12 30 40 4"/>
<polygon points="500,1621.39 1982,1624.06 1982,1625.86 500,1623.19"/>
<rect class="v" x="504" y="1424" width="1" height="194"/>
<rect class="v" x="592" y="1496" width="1" height="122"/>
<rect class="v" x="747" y="1496" width="1" height="122"/>
<rect class="v" x="871" y="1424" width="1" height="194"/>
<rect class="v" x="960" y="1496" width="1" height="122"/>
<rect class="v" x="1098" y="1496" width="1" height="122"/>
<rect class="v" x="1224" y="1426" width="1" height="192"/>
<rect class="v" x="1296" y="1504" width="1" height="114"/>
<rect class="v" x="1436" y="1504" width="1" height="114"/>
<rect class="v" x="1577" y="1426" width="1" height="192"/>
<rect class="v" x="1683" y="1500" width="1" height="118"/>
<rect class="v" x="1855" y="1500" width="1" height="118"/>
<text x="289.3" y="1527.4" font-size="26.5" textLength="173.8" lengthAdjust="spacingAndGlyphs" class="h">Land District.</text>
<text x="688.6" y="1466.1" font-size="26.5" text-anchor="middle" textLength="268.4" lengthAdjust="spacingAndGlyphs" class="l">National Endowment.</text>
<text x="1055" y="1466.1" font-size="26.5" text-anchor="middle" textLength="307.2" lengthAdjust="spacingAndGlyphs" class="h">Education Endowments.</text>
<text x="1401.9" y="1466" font-size="26.5" text-anchor="middle" textLength="245.1" lengthAdjust="spacingAndGlyphs" class="l">Other Endowments.</text>
<text x="1780" y="1466" font-size="26.5" text-anchor="middle" textLength="83.2" lengthAdjust="spacingAndGlyphs" class="l">Totals.</text>
<text x="0" y="0" transform="translate(560.2 1608.5) rotate(-90)" font-size="27" textLength="106" lengthAdjust="spacingAndGlyphs" class="h">Number.</text>
<text x="0" y="0" transform="translate(926.2 1608.5) rotate(-90)" font-size="27" textLength="106" lengthAdjust="spacingAndGlyphs" class="h">Number.</text>
<text x="0" y="0" transform="translate(1268 1610.5) rotate(-90)" font-size="27" textLength="106" lengthAdjust="spacingAndGlyphs" class="h">Number.</text>
<text x="0" y="0" transform="translate(1638.5 1617) rotate(-90)" font-size="27" textLength="106" lengthAdjust="spacingAndGlyphs" class="h">Number.</text>
<text x="669.4" y="1564.2" font-size="26.5" text-anchor="middle" textLength="62" lengthAdjust="spacingAndGlyphs" class="h">Area.</text>
<text x="1028.8" y="1564.2" font-size="26.5" text-anchor="middle" textLength="62" lengthAdjust="spacingAndGlyphs" class="h">Area.</text>
<text x="1367" y="1564.2" font-size="26.5" text-anchor="middle" textLength="62" lengthAdjust="spacingAndGlyphs" class="h">Area.</text>
<text x="1769.5" y="1564.2" font-size="26.5" text-anchor="middle" textLength="62" lengthAdjust="spacingAndGlyphs" class="h">Area.</text>
<text x="809.1" y="1552" font-size="26.5" text-anchor="middle" textLength="86.5" lengthAdjust="spacingAndGlyphs" class="h">Annual</text>
<text x="809.1" y="1577.5" font-size="26.5" text-anchor="middle" textLength="90" lengthAdjust="spacingAndGlyphs" class="h">Rental.</text>
<text x="1161.5" y="1552" font-size="26.5" text-anchor="middle" textLength="86.5" lengthAdjust="spacingAndGlyphs" class="h">Annual</text>
<text x="1161.5" y="1577.5" font-size="26.5" text-anchor="middle" textLength="90" lengthAdjust="spacingAndGlyphs" class="h">Rental.</text>
<text x="1507.3" y="1552" font-size="26.5" text-anchor="middle" textLength="86.5" lengthAdjust="spacingAndGlyphs" class="h">Annual</text>
<text x="1507.3" y="1577.5" font-size="26.5" text-anchor="middle" textLength="90" lengthAdjust="spacingAndGlyphs" class="h">Rental.</text>
<text x="1929.4" y="1552" font-size="26.5" text-anchor="middle" textLength="86.5" lengthAdjust="spacingAndGlyphs" class="h">Annual</text>
<text x="1929.4" y="1577.5" font-size="26.5" text-anchor="middle" textLength="90" lengthAdjust="spacingAndGlyphs" class="h">Rental.</text>
<text x="628" y="1683.12" font-size="33" textLength="87" lengthAdjust="spacingAndGlyphs" class="b">Acres.</text>
<text x="988.3" y="1683.77" font-size="33" textLength="87" lengthAdjust="spacingAndGlyphs" class="b">Acres.</text>
<text x="1326.2" y="1684.38" font-size="33" textLength="87" lengthAdjust="spacingAndGlyphs" class="b">Acres.</text>
<text x="1728.3" y="1685.1" font-size="33" textLength="87" lengthAdjust="spacingAndGlyphs" class="b">Acres.</text>
<text x="820.3" y="1683.47" font-size="33" textLength="15" lengthAdjust="spacingAndGlyphs" class="b">£</text>
<text x="1172.6" y="1684.1" font-size="33" textLength="15" lengthAdjust="spacingAndGlyphs" class="b">£</text>
<text x="1510.4" y="1684.71" font-size="33" textLength="15" lengthAdjust="spacingAndGlyphs" class="b">£</text>
<text x="1930" y="1685.46" font-size="33" textLength="15" lengthAdjust="spacingAndGlyphs" class="b">£</text>
<text x="242.4" y="1717.43" font-size="33" textLength="235.9" lengthAdjust="spacingAndGlyphs" class="b">North Auckland</text>
<text x="537.8 554.3 570.8" y="1718.05" font-size="33" class="b">381</text>
<text x="646.3 662.8 683.42 695.8 712.3 728.8" y="1718.33" font-size="33" class="b">78,626</text>
<text x="787.8 808.42 820.8 837.3 853.8" y="1718.56" font-size="33" class="b">6,710</text>
<text x="910.8 927.3 943.8" y="1718.72" font-size="33" class="b">715</text>
<text x="998.3 1014.8 1035.42 1047.8 1064.3 1080.8" y="1718.96" font-size="33" class="b">42,625</text>
<text x="1138.9 1159.52 1171.9 1188.4 1204.9" y="1719.19" font-size="33" class="b">8,225</text>
<text x="1261.3 1277.8" y="1719.32" font-size="33" class="b">13</text>
<text x="1350.6 1371.22 1383.6 1400.1 1416.6" y="1719.57" font-size="33" class="b">1,872</text>
<text x="1540.3 1556.8" y="1719.82" font-size="33" class="b">41</text>
<text x="1596.9 1617.52 1629.9 1646.4 1662.9" y="1720.01" font-size="33" class="b">1,109</text>
<text x="1737.3 1753.8 1770.3 1790.92 1803.3 1819.8 1836.3" y="1720.32" font-size="33" class="b">123,123</text>
<text x="1892.8 1909.3 1929.92 1942.3 1958.8 1975.3" y="1720.57" font-size="33" class="b">14,976</text>
<text x="244" y="1750.77" font-size="33" textLength="136.8" lengthAdjust="spacingAndGlyphs" class="b">Auckland</text>
<circle cx="460.3" cy="1748.55" r="2.3"/>
<circle cx="475.8" cy="1748.55" r="2.3"/>
<text x="537.8 554.3 570.8" y="1751.39" font-size="33" class="b">584</text>
<text x="629.8 646.3 662.8 683.42 695.8 712.3 728.8" y="1751.67" font-size="33" class="b">181,014</text>
<text x="787.8 808.42 820.8 837.3 853.8" y="1751.9" font-size="33" class="b">7,309</text>
<text x="910.8 927.3 943.8" y="1752.06" font-size="33" class="b">237</text>
<text x="998.3 1014.8 1035.42 1047.8 1064.3 1080.8" y="1752.3" font-size="33" class="b">53,175</text>
<text x="1138.9 1159.52 1171.9 1188.4 1204.9" y="1752.53" font-size="33" class="b">4,488</text>
<text x="1277.8" y="1752.66" font-size="33" class="b">5</text>
<text x="1350.6 1371.22 1383.6 1400.1 1416.6" y="1752.91" font-size="33" class="b">1,678</text>
<text x="1540.3 1556.8" y="1753.16" font-size="33" class="b">43</text>
<text x="1629.9 1646.4 1662.9" y="1753.35" font-size="33" class="b">826</text>
<text x="1737.3 1753.8 1770.3 1790.92 1803.3 1819.8 1836.3" y="1753.66" font-size="33" class="b">235,867</text>
<text x="1892.8 1909.3 1929.92 1942.3 1958.8 1975.3" y="1753.91" font-size="33" class="b">11,840</text>
<text x="244" y="1784.11" font-size="33" textLength="125.5" lengthAdjust="spacingAndGlyphs" class="b">Gisborne</text>
<circle cx="460.3" cy="1781.89" r="2.3"/>
<circle cx="475.8" cy="1781.89" r="2.3"/>
<text x="554.3 570.8" y="1784.73" font-size="33" class="b">71</text>
<text x="629.8 646.3 662.8 683.42 695.8 712.3 728.8" y="1785.01" font-size="33" class="b">156,088</text>
<text x="787.8 808.42 820.8 837.3 853.8" y="1785.24" font-size="33" class="b">7,907</text>
<text x="927.3 943.8" y="1785.4" font-size="33" class="b">70</text>
<text x="998.3 1014.8 1035.42 1047.8 1064.3 1080.8" y="1785.64" font-size="33" class="b">39,979</text>
<text x="1138.9 1159.52 1171.9 1188.4 1204.9" y="1785.87" font-size="33" class="b">8,564</text>
<text x="1277.8" y="1786" font-size="33" class="b">1</text>
<text x="1416.6" y="1786.25" font-size="33" class="b">1</text>
<text x="1556.8" y="1786.5" font-size="33" class="b">4</text>
<text x="1629.9 1646.4 1662.9" y="1786.69" font-size="33" class="b">142</text>
<text x="1737.3 1753.8 1770.3 1790.92 1803.3 1819.8 1836.3" y="1787" font-size="33" class="b">196,068</text>
<text x="1892.8 1909.3 1929.92 1942.3 1958.8 1975.3" y="1787.25" font-size="33" class="b">16,475</text>
<text x="244" y="1817.45" font-size="33" textLength="192.3" lengthAdjust="spacingAndGlyphs" class="b">Hawke’s Bay</text>
<circle cx="460.3" cy="1815.23" r="2.3"/>
<circle cx="475.8" cy="1815.23" r="2.3"/>
<text x="554.3 570.8" y="1818.07" font-size="33" class="b">53</text>
<text x="646.3 662.8 683.42 695.8 712.3 728.8" y="1818.35" font-size="33" class="b">63,936</text>
<text x="787.8 808.42 820.8 837.3 853.8" y="1818.58" font-size="33" class="b">4,830</text>
<text x="910.8 927.3 943.8" y="1818.74" font-size="33" class="b">188</text>
<text x="998.3 1014.8 1035.42 1047.8 1064.3 1080.8" y="1818.98" font-size="33" class="b">51,734</text>
<text x="1138.9 1159.52 1171.9 1188.4 1204.9" y="1819.21" font-size="33" class="b">8,959</text>
<circle cx="1254.8" cy="1816.66" r="2.3"/>
<circle cx="1270.3" cy="1816.66" r="2.3"/>
<circle cx="1360.3" cy="1816.85" r="2.3"/>
<circle cx="1375.8" cy="1816.85" r="2.3"/>
<circle cx="1498.3" cy="1817.1" r="2.3"/>
<circle cx="1513.8" cy="1817.1" r="2.3"/>
<text x="1629.9 1646.4 1662.9" y="1820.03" font-size="33" class="b">241</text>
<text x="1737.3 1753.8 1770.3 1790.92 1803.3 1819.8 1836.3" y="1820.34" font-size="33" class="b">115,670</text>
<text x="1892.8 1909.3 1929.92 1942.3 1958.8 1975.3" y="1820.59" font-size="33" class="b">13,789</text>
<text x="244" y="1850.79" font-size="33" textLength="128.9" lengthAdjust="spacingAndGlyphs" class="b">Taranaki</text>
<circle cx="460.3" cy="1848.57" r="2.3"/>
<circle cx="475.8" cy="1848.57" r="2.3"/>
<text x="537.8 554.3 570.8" y="1851.41" font-size="33" class="b">163</text>
<text x="646.3 662.8 683.42 695.8 712.3 728.8" y="1851.69" font-size="33" class="b">65,379</text>
<text x="787.8 808.42 820.8 837.3 853.8" y="1851.92" font-size="33" class="b">4,572</text>
<text x="910.8 927.3 943.8" y="1852.08" font-size="33" class="b">589</text>
<text x="998.3 1014.8 1035.42 1047.8 1064.3 1080.8" y="1852.32" font-size="33" class="b">48,988</text>
<text x="1122.4 1138.9 1159.52 1171.9 1188.4 1204.9" y="1852.55" font-size="33" class="b">10,774</text>
<text x="1261.3 1277.8" y="1852.68" font-size="33" class="b">19</text>
<text x="1350.6 1371.22 1383.6 1400.1 1416.6" y="1852.93" font-size="33" class="b">9,724</text>
<text x="1490.8 1511.42 1523.8 1540.3 1556.8" y="1853.18" font-size="33" class="b">1,234</text>
<text x="1629.9 1646.4 1662.9" y="1853.37" font-size="33" class="b">771</text>
<text x="1737.3 1753.8 1770.3 1790.92 1803.3 1819.8 1836.3" y="1853.68" font-size="33" class="b">124,091</text>
<text x="1892.8 1909.3 1929.92 1942.3 1958.8 1975.3" y="1853.93" font-size="33" class="b">16,580</text>
<text x="244" y="1884.13" font-size="33" textLength="155.6" lengthAdjust="spacingAndGlyphs" class="b">Wellington</text>
<circle cx="460.3" cy="1881.91" r="2.3"/>
<circle cx="475.8" cy="1881.91" r="2.3"/>
<text x="537.8 554.3 570.8" y="1884.75" font-size="33" class="b">120</text>
<text x="646.3 662.8 683.42 695.8 712.3 728.8" y="1885.03" font-size="33" class="b">68,897</text>
<text x="787.8 808.42 820.8 837.3 853.8" y="1885.26" font-size="33" class="b">4,707</text>
<text x="910.8 927.3 943.8" y="1885.42" font-size="33" class="b">506</text>
<text x="981.8 998.3 1014.8 1035.42 1047.8 1064.3 1080.8" y="1885.66" font-size="33" class="b">105,636</text>
<text x="1122.4 1138.9 1159.52 1171.9 1188.4 1204.9" y="1885.89" font-size="33" class="b">26,593</text>
<text x="1261.3 1277.8" y="1886.02" font-size="33" class="b">25</text>
<text x="1334.1 1350.6 1371.22 1383.6 1400.1 1416.6" y="1886.27" font-size="33" class="b">18,475</text>
<text x="1523.8 1540.3 1556.8" y="1886.52" font-size="33" class="b">765</text>
<text x="1629.9 1646.4 1662.9" y="1886.71" font-size="33" class="b">651</text>
<text x="1737.3 1753.8 1770.3 1790.92 1803.3 1819.8 1836.3" y="1887.02" font-size="33" class="b">193,008</text>
<text x="1892.8 1909.3 1929.92 1942.3 1958.8 1975.3" y="1887.27" font-size="33" class="b">32,065</text>
<text x="244" y="1917.47" font-size="33" textLength="95.5" lengthAdjust="spacingAndGlyphs" class="b">Nelson</text>
<circle cx="460.3" cy="1915.25" r="2.3"/>
<circle cx="475.8" cy="1915.25" r="2.3"/>
<text x="537.8 554.3 570.8" y="1918.09" font-size="33" class="b">724</text>
<text x="629.8 646.3 662.8 683.42 695.8 712.3 728.8" y="1918.37" font-size="33" class="b">274,181</text>
<text x="787.8 808.42 820.8 837.3 853.8" y="1918.6" font-size="33" class="b">5,991</text>
<text x="910.8 927.3 943.8" y="1918.76" font-size="33" class="b">116</text>
<text x="1014.8 1035.42 1047.8 1064.3 1080.8" y="1919" font-size="33" class="b">7,231</text>
<text x="1171.9 1188.4 1204.9" y="1919.23" font-size="33" class="b">732</text>
<text x="1244.8 1261.3 1277.8" y="1919.36" font-size="33" class="b">441</text>
<text x="1334.1 1350.6 1371.22 1383.6 1400.1 1416.6" y="1919.61" font-size="33" class="b">16,240</text>
<text x="1490.8 1511.42 1523.8 1540.3 1556.8" y="1919.86" font-size="33" class="b">1,475</text>
<text x="1596.9 1617.52 1629.9 1646.4 1662.9" y="1920.05" font-size="33" class="b">1,281</text>
<text x="1737.3 1753.8 1770.3 1790.92 1803.3 1819.8 1836.3" y="1920.36" font-size="33" class="b">297,652</text>
<text x="1909.3 1929.92 1942.3 1958.8 1975.3" y="1920.61" font-size="33" class="b">8,198</text>
<text x="244" y="1950.81" font-size="33" textLength="180.3" lengthAdjust="spacingAndGlyphs" class="b">Marlborough</text>
<circle cx="460.3" cy="1948.59" r="2.3"/>
<circle cx="475.8" cy="1948.59" r="2.3"/>
<text x="537.8 554.3 570.8" y="1951.43" font-size="33" class="b">211</text>
<text x="629.8 646.3 662.8 683.42 695.8 712.3 728.8" y="1951.71" font-size="33" class="b">543,528</text>
<text x="787.8 808.42 820.8 837.3 853.8" y="1951.94" font-size="33" class="b">6,766</text>
<text x="927.3 943.8" y="1952.1" font-size="33" class="b">42</text>
<text x="1014.8 1035.42 1047.8 1064.3 1080.8" y="1952.34" font-size="33" class="b">1,413</text>
<text x="1171.9 1188.4 1204.9" y="1952.57" font-size="33" class="b">574</text>
<circle cx="1254.8" cy="1950.02" r="2.3"/>
<circle cx="1270.3" cy="1950.02" r="2.3"/>
<circle cx="1360.3" cy="1950.21" r="2.3"/>
<circle cx="1375.8" cy="1950.21" r="2.3"/>
<circle cx="1498.3" cy="1950.46" r="2.3"/>
<circle cx="1513.8" cy="1950.46" r="2.3"/>
<text x="1629.9 1646.4 1662.9" y="1953.39" font-size="33" class="b">253</text>
<text x="1737.3 1753.8 1770.3 1790.92 1803.3 1819.8 1836.3" y="1953.7" font-size="33" class="b">544,941</text>
<text x="1909.3 1929.92 1942.3 1958.8 1975.3" y="1953.95" font-size="33" class="b">7,340</text>
<text x="244" y="1984.15" font-size="33" textLength="134.2" lengthAdjust="spacingAndGlyphs" class="b">Westland</text>
<circle cx="460.3" cy="1981.93" r="2.3"/>
<circle cx="475.8" cy="1981.93" r="2.3"/>
<text x="504.8 525.42 537.8 554.3 570.8" y="1984.77" font-size="33" class="b">1,012</text>
<text x="629.8 646.3 662.8 683.42 695.8 712.3 728.8" y="1985.05" font-size="33" class="b">345,174</text>
<text x="787.8 808.42 820.8 837.3 853.8" y="1985.28" font-size="33" class="b">3,898</text>
<text x="910.8 927.3 943.8" y="1985.44" font-size="33" class="b">108</text>
<text x="998.3 1014.8 1035.42 1047.8 1064.3 1080.8" y="1985.68" font-size="33" class="b">13,692</text>
<text x="1171.9 1188.4 1204.9" y="1985.91" font-size="33" class="b">699</text>
<text x="1277.8" y="1986.04" font-size="33" class="b">2</text>
<text x="1383.6 1400.1 1416.6" y="1986.29" font-size="33" class="b">130</text>
<text x="1556.8" y="1986.54" font-size="33" class="b">7</text>
<text x="1596.9 1617.52 1629.9 1646.4 1662.9" y="1986.73" font-size="33" class="b">1,122</text>
<text x="1737.3 1753.8 1770.3 1790.92 1803.3 1819.8 1836.3" y="1987.04" font-size="33" class="b">358,996</text>
<text x="1909.3 1929.92 1942.3 1958.8 1975.3" y="1987.29" font-size="33" class="b">4,604</text>
<text x="244" y="2017.49" font-size="33" textLength="160.9" lengthAdjust="spacingAndGlyphs" class="b">Canterbury</text>
<circle cx="460.3" cy="2015.27" r="2.3"/>
<circle cx="475.8" cy="2015.27" r="2.3"/>
<text x="537.8 554.3 570.8" y="2018.11" font-size="33" class="b">159</text>
<text x="596.8 617.42 629.8 646.3 662.8 683.42 695.8 712.3 728.8" y="2018.39" font-size="33" class="b">1,667,981</text>
<text x="771.3 787.8 808.42 820.8 837.3 853.8" y="2018.62" font-size="33" class="b">40,995</text>
<text x="910.8 927.3 943.8" y="2018.78" font-size="33" class="b">234</text>
<text x="998.3 1014.8 1035.42 1047.8 1064.3 1080.8" y="2019.02" font-size="33" class="b">70,914</text>
<text x="1122.4 1138.9 1159.52 1171.9 1188.4 1204.9" y="2019.25" font-size="33" class="b">30,779</text>
<text x="1244.8 1261.3 1277.8" y="2019.38" font-size="33" class="b">173</text>
<text x="1334.1 1350.6 1371.22 1383.6 1400.1 1416.6" y="2019.63" font-size="33" class="b">16,932</text>
<text x="1490.8 1511.42 1523.8 1540.3 1556.8" y="2019.88" font-size="33" class="b">1,841</text>
<text x="1629.9 1646.4 1662.9" y="2020.07" font-size="33" class="b">566</text>
<text x="1704.3 1724.92 1737.3 1753.8 1770.3 1790.92 1803.3 1819.8 1836.3" y="2020.38" font-size="33" class="b">1,755,827</text>
<text x="1892.8 1909.3 1929.92 1942.3 1958.8 1975.3" y="2020.63" font-size="33" class="b">73,615</text>
<text x="244" y="2050.83" font-size="33" textLength="84.1" lengthAdjust="spacingAndGlyphs" class="b">Otago</text>
<circle cx="460.3" cy="2048.61" r="2.3"/>
<circle cx="475.8" cy="2048.61" r="2.3"/>
<text x="537.8 554.3 570.8" y="2051.45" font-size="33" class="b">774</text>
<text x="596.8 617.42 629.8 646.3 662.8 683.42 695.8 712.3 728.8" y="2051.73" font-size="33" class="b">2,518,369</text>
<text x="771.3 787.8 808.42 820.8 837.3 853.8" y="2051.96" font-size="33" class="b">37,456</text>
<text x="910.8 927.3 943.8" y="2052.12" font-size="33" class="b">443</text>
<text x="998.3 1014.8 1035.42 1047.8 1064.3 1080.8" y="2052.36" font-size="33" class="b">45,065</text>
<text x="1138.9 1159.52 1171.9 1188.4 1204.9" y="2052.59" font-size="33" class="b">5,983</text>
<text x="1261.3 1277.8" y="2052.72" font-size="33" class="b">67</text>
<text x="1317.6 1334.1 1350.6 1371.22 1383.6 1400.1 1416.6" y="2052.97" font-size="33" class="b">176,786</text>
<text x="1490.8 1511.42 1523.8 1540.3 1556.8" y="2053.22" font-size="33" class="b">7,632</text>
<text x="1596.9 1617.52 1629.9 1646.4 1662.9" y="2053.41" font-size="33" class="b">1,284</text>
<text x="1704.3 1724.92 1737.3 1753.8 1770.3 1790.92 1803.3 1819.8 1836.3" y="2053.72" font-size="33" class="b">2,740,220</text>
<text x="1892.8 1909.3 1929.92 1942.3 1958.8 1975.3" y="2053.97" font-size="33" class="b">51,071</text>
<text x="244" y="2084.17" font-size="33" textLength="144.2" lengthAdjust="spacingAndGlyphs" class="b">Southland</text>
<circle cx="460.3" cy="2081.95" r="2.3"/>
<circle cx="475.8" cy="2081.95" r="2.3"/>
<text x="537.8 554.3 570.8" y="2084.79" font-size="33" class="b">233</text>
<text x="629.8 646.3 662.8 683.42 695.8 712.3 728.8" y="2085.07" font-size="33" class="b">768,116</text>
<text x="787.8 808.42 820.8 837.3 853.8" y="2085.3" font-size="33" class="b">6,899</text>
<text x="910.8 927.3 943.8" y="2085.46" font-size="33" class="b">787</text>
<text x="981.8 998.3 1014.8 1035.42 1047.8 1064.3 1080.8" y="2085.7" font-size="33" class="b">339,280</text>
<text x="1122.4 1138.9 1159.52 1171.9 1188.4 1204.9" y="2085.93" font-size="33" class="b">20,760</text>
<text x="1261.3 1277.8" y="2086.06" font-size="33" class="b">17</text>
<text x="1317.6 1334.1 1350.6 1371.22 1383.6 1400.1 1416.6" y="2086.31" font-size="33" class="b">114,331</text>
<text x="1490.8 1511.42 1523.8 1540.3 1556.8" y="2086.56" font-size="33" class="b">2,516</text>
<text x="1596.9 1617.52 1629.9 1646.4 1662.9" y="2086.75" font-size="33" class="b">1,037</text>
<text x="1704.3 1724.92 1737.3 1753.8 1770.3 1790.92 1803.3 1819.8 1836.3" y="2087.06" font-size="33" class="b">1,221,727</text>
<text x="1892.8 1909.3 1929.92 1942.3 1958.8 1975.3" y="2087.31" font-size="33" class="b">30,175</text>
<text x="277.3" y="2148.19" font-size="33" textLength="87" lengthAdjust="spacingAndGlyphs" class="b">Totals</text>
<circle cx="460.3" cy="2145.91" r="2.3"/>
<circle cx="475.8" cy="2145.91" r="2.3"/>
<text x="504.8 525.42 537.8 554.3 570.8" y="2148.75" font-size="33" class="b">4,485</text>
<text x="596.8 617.42 629.8 646.3 662.8 683.42 695.8 712.3 728.8" y="2149.03" font-size="33" class="b">6,731,289</text>
<text x="754.8 771.3 787.8 808.42 820.8 837.3 853.8" y="2149.26" font-size="33" class="b">138,040</text>
<text x="877.8 898.42 910.8 927.3 943.8" y="2149.42" font-size="33" class="b">4,035</text>
<text x="981.8 998.3 1014.8 1035.42 1047.8 1064.3 1080.8" y="2149.66" font-size="33" class="b">819,732</text>
<text x="1105.9 1122.4 1138.9 1159.52 1171.9 1188.4 1204.9" y="2149.89" font-size="33" class="b">127,130</text>
<text x="1244.8 1261.3 1277.8" y="2150.02" font-size="33" class="b">763</text>
<text x="1317.6 1334.1 1350.6 1371.22 1383.6 1400.1 1416.6" y="2150.27" font-size="33" class="b">356,169</text>
<text x="1474.3 1490.8 1511.42 1523.8 1540.3 1556.8" y="2150.52" font-size="33" class="b">15,558</text>
<text x="1596.9 1617.52 1629.9 1646.4 1662.9" y="2150.71" font-size="33" class="b">9,283</text>
<text x="1704.3 1724.92 1737.3 1753.8 1770.3 1790.92 1803.3 1819.8 1836.3" y="2151.02" font-size="33" class="b">7,907,190</text>
<text x="1876.3 1892.8 1909.3 1929.92 1942.3 1958.8 1975.3" y="2151.27" font-size="33" class="b">280,728</text>
<polygon points="506,2108.3 1993,2110.98 1993,2112.98 506,2110.3"/>
<line x1="244" y1="2196.13" x2="358" y2="2196.33" stroke="#000" stroke-width="1.4" stroke-dasharray="14 8 4 10"/>
<polygon points="358,2195.48 1997,2198.43 1997,2200.13 358,2197.18"/>
<line class="v" x1="504.5" y1="1630" x2="504.5" y2="2172" stroke="#000" stroke-width="1" stroke-dasharray="120 4 200 4"/>
<line class="v" x1="594.5" y1="1630" x2="594.5" y2="2172" stroke="#000" stroke-width="1" stroke-dasharray="60 4 100 3"/>
<line class="v" x1="749.5" y1="1630" x2="749.5" y2="2172" stroke="#000" stroke-width="1" stroke-dasharray="150 4 90 4"/>
<line class="v" x1="872.5" y1="1630" x2="872.5" y2="2172" stroke="#000" stroke-width="1" stroke-dasharray="300 4 100 3"/>
<line class="v" x1="962.5" y1="1630" x2="962.5" y2="2172" stroke="#000" stroke-width="1" stroke-dasharray="80 4 60 4"/>
<line class="v" x1="1102.5" y1="1630" x2="1102.5" y2="2172" stroke="#000" stroke-width="1" stroke-dasharray="200 3 40 4"/>
<line class="v" x1="1224.5" y1="1630" x2="1224.5" y2="2172" stroke="#000" stroke-width="1" stroke-dasharray="40 5 30 4 60 3"/>
<line class="v" x1="1298.5" y1="1630" x2="1298.5" y2="2172" stroke="#000" stroke-width="1" stroke-dasharray="30 4 10 4 50 4"/>
<line class="v" x1="1437.5" y1="1630" x2="1437.5" y2="2172" stroke="#000" stroke-width="1" stroke-dasharray="100 4 30 4"/>
<line class="v" x1="1577.5" y1="1630" x2="1577.5" y2="2172" stroke="#000" stroke-width="1" stroke-dasharray="50 5 40 4"/>
<line class="v" x1="1682.5" y1="1630" x2="1682.5" y2="2174" stroke="#000" stroke-width="1" stroke-dasharray="250 4 100 4"/>
<line class="v" x1="1855.5" y1="1630" x2="1855.5" y2="2160" stroke="#000" stroke-width="1" stroke-dasharray="60 4 120 4"/>
<text x="241.9" y="2299.8" font-size="50" font-weight="bold" textLength="30.7" lengthAdjust="spacingAndGlyphs" class="tb">T</text>
<text x="277.5" y="2299.8" font-size="47" textLength="89.8" lengthAdjust="spacingAndGlyphs" class="b">able</text>
<text x="398.2" y="2299.8" font-size="45" font-weight="bold" textLength="37.6" lengthAdjust="spacingAndGlyphs" class="tb" style="font-family:'Liberation Sans',sans-serif">6.</text>
<rect x="440" y="2285.1" width="37" height="2.2"/>
<text x="478.4" y="2297.5" font-size="41.5" textLength="106.8" lengthAdjust="spacingAndGlyphs" class="t"><tspan font-size="41.5">T</tspan><tspan font-size="27.18">OTAL</tspan></text>
<text x="615.2" y="2297.5" font-size="41.5" textLength="175.3" lengthAdjust="spacingAndGlyphs" class="t"><tspan font-size="41.5">R</tspan><tspan font-size="27.18">ECEIPTS</tspan><tspan font-size="41.5">,</tspan></text>
<text x="816.7" y="2297.5" font-size="41.5" textLength="158.5" lengthAdjust="spacingAndGlyphs" class="t"><tspan font-size="41.5">A</tspan><tspan font-size="27.18">RREARS</tspan><tspan font-size="41.5">,</tspan></text>
<text x="996.9" y="2297.5" font-size="41.5" textLength="63.4" lengthAdjust="spacingAndGlyphs" class="t"><tspan font-size="27.18">AND</tspan></text>
<text x="1088.7" y="2297.5" font-size="41.5" textLength="276.5" lengthAdjust="spacingAndGlyphs" class="t"><tspan font-size="41.5">P</tspan><tspan font-size="27.18">OSTPONEMENTS</tspan></text>
<text x="1388.5" y="2297.5" font-size="41.5" textLength="38.4" lengthAdjust="spacingAndGlyphs" class="t"><tspan font-size="27.18">OF</tspan></text>
<text x="1450.3" y="2297.5" font-size="41.5" textLength="93.4" lengthAdjust="spacingAndGlyphs" class="t"><tspan font-size="41.5">R</tspan><tspan font-size="27.18">ENT</tspan></text>
<text x="1565.2" y="2297.5" font-size="41.5" textLength="35.1" lengthAdjust="spacingAndGlyphs" class="t"><tspan font-size="27.18">AT</tspan></text>
<text x="1627" y="2297.5" font-size="41.5" textLength="78.5" lengthAdjust="spacingAndGlyphs" class="t"><tspan font-size="41.5">31</tspan><tspan font-size="27.18">ST</tspan></text>
<text x="1730.5" y="2297.5" font-size="41.5" textLength="116.6" lengthAdjust="spacingAndGlyphs" class="t"><tspan font-size="41.5">M</tspan><tspan font-size="27.18">ARCH</tspan><tspan font-size="41.5">,</tspan></text>
<text x="1875.5" y="2297.5" font-size="41.5" textLength="90.1" lengthAdjust="spacingAndGlyphs" class="t"><tspan font-size="41.5">1927.</tspan></text>
<polygon points="242,2320.63 1988,2323.77 1988,2325.77 242,2322.63"/>
<polygon points="244,2451.73 1982,2454.86 1982,2456.66 244,2453.53"/>
<line class="v" x1="490.5" y1="2330" x2="490.5" y2="2452" stroke="#000" stroke-width="1" stroke-dasharray="22 4 5 4"/>
<line class="v" x1="629.5" y1="2330" x2="629.5" y2="2452" stroke="#000" stroke-width="1" stroke-dasharray="22 4 5 4"/>
<line class="v" x1="786.5" y1="2330" x2="786.5" y2="2452" stroke="#000" stroke-width="1" stroke-dasharray="22 4 5 4"/>
<line class="v" x1="908.5" y1="2330" x2="908.5" y2="2452" stroke="#000" stroke-width="1" stroke-dasharray="22 4 5 4"/>
<line class="v" x1="1032.5" y1="2330" x2="1032.5" y2="2452" stroke="#000" stroke-width="1" stroke-dasharray="22 4 5 4"/>
<line class="v" x1="1170.5" y1="2330" x2="1170.5" y2="2452" stroke="#000" stroke-width="1" stroke-dasharray="22 4 5 4"/>
<line class="v" x1="1309.5" y1="2330" x2="1309.5" y2="2452" stroke="#000" stroke-width="1" stroke-dasharray="22 4 5 4"/>
<line class="v" x1="1434.5" y1="2330" x2="1434.5" y2="2452" stroke="#000" stroke-width="1" stroke-dasharray="22 4 5 4"/>
<line class="v" x1="1559.5" y1="2330" x2="1559.5" y2="2452" stroke="#000" stroke-width="1" stroke-dasharray="22 4 5 4"/>
<line class="v" x1="1714.5" y1="2330" x2="1714.5" y2="2452" stroke="#000" stroke-width="1" stroke-dasharray="22 4 5 4"/>
<line class="v" x1="1855.5" y1="2330" x2="1855.5" y2="2452" stroke="#000" stroke-width="1" stroke-dasharray="22 4 5 4"/>
<text x="278" y="2386.9" font-size="26.5" textLength="174.3" lengthAdjust="spacingAndGlyphs" class="h">Land District.</text>
<text x="565.3" y="2368" font-size="26.5" text-anchor="middle" textLength="97" lengthAdjust="spacingAndGlyphs" class="h">Ordinary</text>
<text x="565.3" y="2393.3" font-size="26.5" text-anchor="middle" textLength="70" lengthAdjust="spacingAndGlyphs" class="h">Crown</text>
<text x="565.3" y="2419" font-size="26.5" text-anchor="middle" textLength="73" lengthAdjust="spacingAndGlyphs" class="h">Lands.</text>
<text x="707.5" y="2368" font-size="26.5" text-anchor="middle" textLength="57" lengthAdjust="spacingAndGlyphs" class="h">Land</text>
<text x="707.5" y="2393.3" font-size="26.5" text-anchor="middle" textLength="37" lengthAdjust="spacingAndGlyphs" class="h">for</text>
<text x="707.5" y="2419" font-size="26.5" text-anchor="middle" textLength="150.2" lengthAdjust="spacingAndGlyphs" class="h">Settlements.</text>
<text x="849" y="2383.3" font-size="26.5" text-anchor="middle" textLength="58" lengthAdjust="spacingAndGlyphs" class="h">Hutt</text>
<text x="849" y="2408.1" font-size="26.5" text-anchor="middle" textLength="86.2" lengthAdjust="spacingAndGlyphs" class="h">Valley.</text>
<text x="969" y="2383.3" font-size="26.5" text-anchor="middle" textLength="90" lengthAdjust="spacingAndGlyphs" class="h">Cheviot</text>
<text x="969" y="2408.1" font-size="26.5" text-anchor="middle" textLength="83" lengthAdjust="spacingAndGlyphs" class="h">Estate.</text>
<text x="1099.3" y="2354.9" font-size="26.5" text-anchor="middle" textLength="98" lengthAdjust="spacingAndGlyphs" class="h">National</text>
<text x="1099.3" y="2378.9" font-size="26.5" text-anchor="middle" textLength="88" lengthAdjust="spacingAndGlyphs" class="h">Endow-</text>
<text x="1099.3" y="2404.1" font-size="26.5" text-anchor="middle" textLength="61" lengthAdjust="spacingAndGlyphs" class="h">ment</text>
<text x="1099.3" y="2429.4" font-size="26.5" text-anchor="middle" textLength="73" lengthAdjust="spacingAndGlyphs" class="h">Lands.</text>
<text x="1243.4" y="2354.9" font-size="26.5" text-anchor="middle" textLength="122.2" lengthAdjust="spacingAndGlyphs" class="h">Education</text>
<text x="1243.4" y="2378.9" font-size="26.5" text-anchor="middle" textLength="88" lengthAdjust="spacingAndGlyphs" class="h">Endow-</text>
<text x="1243.4" y="2404.1" font-size="26.5" text-anchor="middle" textLength="61" lengthAdjust="spacingAndGlyphs" class="h">ment</text>
<text x="1243.4" y="2429.4" font-size="26.5" text-anchor="middle" textLength="73" lengthAdjust="spacingAndGlyphs" class="h">Lands.</text>
<text x="1373" y="2356" font-size="26.5" text-anchor="middle" textLength="68" lengthAdjust="spacingAndGlyphs" class="h">Other</text>
<text x="1373" y="2381.3" font-size="26.5" text-anchor="middle" textLength="88" lengthAdjust="spacingAndGlyphs" class="h">Endow-</text>
<text x="1373" y="2407" font-size="26.5" text-anchor="middle" textLength="61" lengthAdjust="spacingAndGlyphs" class="h">ment</text>
<text x="1373" y="2432.2" font-size="26.5" text-anchor="middle" textLength="73" lengthAdjust="spacingAndGlyphs" class="h">Lands.</text>
<text x="1498.3" y="2383.3" font-size="26.5" text-anchor="middle" textLength="86" lengthAdjust="spacingAndGlyphs" class="h">Miscel-</text>
<text x="1498.3" y="2408.1" font-size="26.5" text-anchor="middle" textLength="96" lengthAdjust="spacingAndGlyphs" class="h">laneous.</text>
<text x="1638.5" y="2383.3" font-size="26.5" text-anchor="middle" textLength="64" lengthAdjust="spacingAndGlyphs" class="h">Total</text>
<text x="1638.5" y="2408.1" font-size="26.5" text-anchor="middle" textLength="108" lengthAdjust="spacingAndGlyphs" class="h">Receipts.</text>
<text x="1788.7" y="2383.3" font-size="26.5" text-anchor="middle" textLength="64" lengthAdjust="spacingAndGlyphs" class="h">Total</text>
<text x="1788.7" y="2408.1" font-size="26.5" text-anchor="middle" textLength="100" lengthAdjust="spacingAndGlyphs" class="h">Arrears.</text>
<text x="1923.4" y="2374.1" font-size="26.5" text-anchor="middle" textLength="64" lengthAdjust="spacingAndGlyphs" class="h">Total</text>
<text x="1923.4" y="2398.9" font-size="26.5" text-anchor="middle" textLength="116.2" lengthAdjust="spacingAndGlyphs" class="h">Postpone-</text>
<text x="1923.4" y="2423" font-size="26.5" text-anchor="middle" textLength="78" lengthAdjust="spacingAndGlyphs" class="h">ments.</text>
<text x="550.4" y="2514.08" font-size="33" text-anchor="middle" textLength="15" lengthAdjust="spacingAndGlyphs" class="b">£</text>
<text x="704.6" y="2514.36" font-size="33" text-anchor="middle" textLength="15" lengthAdjust="spacingAndGlyphs" class="b">£</text>
<text x="864" y="2514.65" font-size="33" text-anchor="middle" textLength="15" lengthAdjust="spacingAndGlyphs" class="b">£</text>
<text x="970.3" y="2514.84" font-size="33" text-anchor="middle" textLength="15" lengthAdjust="spacingAndGlyphs" class="b">£</text>
<text x="1094.4" y="2515.06" font-size="33" text-anchor="middle" textLength="15" lengthAdjust="spacingAndGlyphs" class="b">£</text>
<text x="1250.6" y="2515.34" font-size="33" text-anchor="middle" textLength="15" lengthAdjust="spacingAndGlyphs" class="b">£</text>
<text x="1376" y="2515.57" font-size="33" text-anchor="middle" textLength="15" lengthAdjust="spacingAndGlyphs" class="b">£</text>
<text x="1500" y="2515.79" font-size="33" text-anchor="middle" textLength="15" lengthAdjust="spacingAndGlyphs" class="b">£</text>
<text x="1638.5" y="2516.04" font-size="33" text-anchor="middle" textLength="15" lengthAdjust="spacingAndGlyphs" class="b">£</text>
<text x="1778.7" y="2516.29" font-size="33" text-anchor="middle" textLength="15" lengthAdjust="spacingAndGlyphs" class="b">£</text>
<text x="1937.4" y="2516.58" font-size="33" text-anchor="middle" textLength="15" lengthAdjust="spacingAndGlyphs" class="b">£</text>
<text x="242" y="2548.03" font-size="33" textLength="230.3" lengthAdjust="spacingAndGlyphs" class="b">North Auckland</text>
<text x="508.3 524.8 545.42 557.8 574.3 590.8" y="2548.68" font-size="33" class="b">22,761</text>
<text x="664.5 681 701.62 714 730.5 747" y="2548.96" font-size="33" class="b">12,191</text>
<circle cx="846.3" cy="2546.51" r="2.3"/>
<circle cx="861.8" cy="2546.51" r="2.3"/>
<circle cx="972.3" cy="2546.74" r="2.3"/>
<circle cx="987.8" cy="2546.74" r="2.3"/>
<text x="1066.8 1087.42 1099.8 1116.3 1132.8" y="2549.66" font-size="33" class="b">7,210</text>
<text x="1207 1227.62 1240 1256.5 1273" y="2549.91" font-size="33" class="b">7,051</text>
<text x="1382 1398.5" y="2550.14" font-size="33" class="b">42</text>
<text x="1456.6 1477.22 1489.6 1506.1 1522.6" y="2550.36" font-size="33" class="b">2,883</text>
<text x="1596.3 1612.8 1633.42 1645.8 1662.3 1678.8" y="2550.64" font-size="33" class="b">52,138</text>
<text x="1738.5 1755 1775.62 1788 1804.5 1821" y="2550.9" font-size="33" class="b">18,258</text>
<text x="1911.8 1932.42 1944.8 1961.3 1977.8" y="2551.18" font-size="33" class="b">4,839</text>
<text x="241" y="2581.32" font-size="33" textLength="136.8" lengthAdjust="spacingAndGlyphs" class="b">Auckland</text>
<circle cx="444.3" cy="2579.09" r="2.3"/>
<circle cx="459.8" cy="2579.09" r="2.3"/>
<text x="508.3 524.8 545.42 557.8 574.3 590.8" y="2581.98" font-size="33" class="b">76,790</text>
<text x="664.5 681 701.62 714 730.5 747" y="2582.26" font-size="33" class="b">36,611</text>
<circle cx="846.3" cy="2579.81" r="2.3"/>
<circle cx="861.8" cy="2579.81" r="2.3"/>
<circle cx="972.3" cy="2580.04" r="2.3"/>
<circle cx="987.8" cy="2580.04" r="2.3"/>
<text x="1066.8 1087.42 1099.8 1116.3 1132.8" y="2582.96" font-size="33" class="b">6,713</text>
<text x="1207 1227.62 1240 1256.5 1273" y="2583.21" font-size="33" class="b">3,301</text>
<text x="1332.5 1353.12 1365.5 1382 1398.5" y="2583.44" font-size="33" class="b">1,525</text>
<text x="1456.6 1477.22 1489.6 1506.1 1522.6" y="2583.66" font-size="33" class="b">4,346</text>
<text x="1579.8 1596.3 1612.8 1633.42 1645.8 1662.3 1678.8" y="2583.94" font-size="33" class="b">129,286</text>
<text x="1738.5 1755 1775.62 1788 1804.5 1821" y="2584.2" font-size="33" class="b">35,220</text>
<text x="1895.3 1911.8 1932.42 1944.8 1961.3 1977.8" y="2584.48" font-size="33" class="b">15,839</text>
<text x="241" y="2614.62" font-size="33" textLength="125.5" lengthAdjust="spacingAndGlyphs" class="b">Gisborne</text>
<circle cx="444.3" cy="2612.39" r="2.3"/>
<circle cx="459.8" cy="2612.39" r="2.3"/>
<text x="508.3 524.8 545.42 557.8 574.3 590.8" y="2615.28" font-size="33" class="b">24,418</text>
<text x="664.5 681 701.62 714 730.5 747" y="2615.56" font-size="33" class="b">24,143</text>
<circle cx="846.3" cy="2613.11" r="2.3"/>
<circle cx="861.8" cy="2613.11" r="2.3"/>
<circle cx="972.3" cy="2613.34" r="2.3"/>
<circle cx="987.8" cy="2613.34" r="2.3"/>
<text x="1066.8 1087.42 1099.8 1116.3 1132.8" y="2616.26" font-size="33" class="b">8,443</text>
<text x="1207 1227.62 1240 1256.5 1273" y="2616.51" font-size="33" class="b">7,918</text>
<text x="1398.5" y="2616.74" font-size="33" class="b">4</text>
<text x="1489.6 1506.1 1522.6" y="2616.96" font-size="33" class="b">585</text>
<text x="1596.3 1612.8 1633.42 1645.8 1662.3 1678.8" y="2617.24" font-size="33" class="b">65,511</text>
<text x="1755 1775.62 1788 1804.5 1821" y="2617.5" font-size="33" class="b">7,513</text>
<text x="1895.3 1911.8 1932.42 1944.8 1961.3 1977.8" y="2617.78" font-size="33" class="b">10,815</text>
<text x="241" y="2647.92" font-size="33" textLength="192.3" lengthAdjust="spacingAndGlyphs" class="b">Hawke’s Bay</text>
<circle cx="444.3" cy="2645.69" r="2.3"/>
<circle cx="459.8" cy="2645.69" r="2.3"/>
<text x="508.3 524.8 545.42 557.8 574.3 590.8" y="2648.58" font-size="33" class="b">52,492</text>
<text x="664.5 681 701.62 714 730.5 747" y="2648.86" font-size="33" class="b">65,377</text>
<circle cx="846.3" cy="2646.41" r="2.3"/>
<circle cx="861.8" cy="2646.41" r="2.3"/>
<circle cx="972.3" cy="2646.64" r="2.3"/>
<circle cx="987.8" cy="2646.64" r="2.3"/>
<text x="1066.8 1087.42 1099.8 1116.3 1132.8" y="2649.56" font-size="33" class="b">3,860</text>
<text x="1207 1227.62 1240 1256.5 1273" y="2649.81" font-size="33" class="b">9,107</text>
<circle cx="1372.3" cy="2647.36" r="2.3"/>
<circle cx="1387.8" cy="2647.36" r="2.3"/>
<text x="1456.6 1477.22 1489.6 1506.1 1522.6" y="2650.26" font-size="33" class="b">1,784</text>
<text x="1579.8 1596.3 1612.8 1633.42 1645.8 1662.3 1678.8" y="2650.54" font-size="33" class="b">132,620</text>
<text x="1738.5 1755 1775.62 1788 1804.5 1821" y="2650.8" font-size="33" class="b">13,595</text>
<text x="1895.3 1911.8 1932.42 1944.8 1961.3 1977.8" y="2651.08" font-size="33" class="b">30,855</text>
<text x="241" y="2681.22" font-size="33" textLength="128.9" lengthAdjust="spacingAndGlyphs" class="b">Taranaki</text>
<circle cx="444.3" cy="2678.99" r="2.3"/>
<circle cx="459.8" cy="2678.99" r="2.3"/>
<text x="508.3 524.8 545.42 557.8 574.3 590.8" y="2681.88" font-size="33" class="b">23,221</text>
<text x="664.5 681 701.62 714 730.5 747" y="2682.16" font-size="33" class="b">10,415</text>
<circle cx="846.3" cy="2679.71" r="2.3"/>
<circle cx="861.8" cy="2679.71" r="2.3"/>
<circle cx="972.3" cy="2679.94" r="2.3"/>
<circle cx="987.8" cy="2679.94" r="2.3"/>
<text x="1066.8 1087.42 1099.8 1116.3 1132.8" y="2682.86" font-size="33" class="b">2,374</text>
<text x="1207 1227.62 1240 1256.5 1273" y="2683.11" font-size="33" class="b">9,948</text>
<text x="1332.5 1353.12 1365.5 1382 1398.5" y="2683.34" font-size="33" class="b">1,201</text>
<text x="1440.1 1456.6 1477.22 1489.6 1506.1 1522.6" y="2683.56" font-size="33" class="b">16,518</text>
<text x="1596.3 1612.8 1633.42 1645.8 1662.3 1678.8" y="2683.84" font-size="33" class="b">63,677</text>
<text x="1738.5 1755 1775.62 1788 1804.5 1821" y="2684.1" font-size="33" class="b">22,628</text>
<text x="1911.8 1932.42 1944.8 1961.3 1977.8" y="2684.38" font-size="33" class="b">3,538</text>
<text x="241" y="2714.52" font-size="33" textLength="155.6" lengthAdjust="spacingAndGlyphs" class="b">Wellington</text>
<circle cx="444.3" cy="2712.29" r="2.3"/>
<circle cx="459.8" cy="2712.29" r="2.3"/>
<text x="508.3 524.8 545.42 557.8 574.3 590.8" y="2715.18" font-size="33" class="b">40,146</text>
<text x="664.5 681 701.62 714 730.5 747" y="2715.46" font-size="33" class="b">80,310</text>
<text x="789.3 805.8 826.42 838.8 855.3 871.8" y="2715.69" font-size="33" class="b">23,568</text>
<circle cx="972.3" cy="2713.24" r="2.3"/>
<circle cx="987.8" cy="2713.24" r="2.3"/>
<text x="1066.8 1087.42 1099.8 1116.3 1132.8" y="2716.16" font-size="33" class="b">5,045</text>
<text x="1190.5 1207 1227.62 1240 1256.5 1273" y="2716.41" font-size="33" class="b">28,795</text>
<text x="1332.5 1353.12 1365.5 1382 1398.5" y="2716.64" font-size="33" class="b">1,899</text>
<text x="1440.1 1456.6 1477.22 1489.6 1506.1 1522.6" y="2716.86" font-size="33" class="b">15,829</text>
<text x="1579.8 1596.3 1612.8 1633.42 1645.8 1662.3 1678.8" y="2717.14" font-size="33" class="b">195,592</text>
<text x="1738.5 1755 1775.62 1788 1804.5 1821" y="2717.4" font-size="33" class="b">49,248</text>
<text x="1895.3 1911.8 1932.42 1944.8 1961.3 1977.8" y="2717.68" font-size="33" class="b">35,835</text>
<text x="241" y="2747.82" font-size="33" textLength="95.5" lengthAdjust="spacingAndGlyphs" class="b">Nelson</text>
<circle cx="444.3" cy="2745.59" r="2.3"/>
<circle cx="459.8" cy="2745.59" r="2.3"/>
<text x="524.8 545.42 557.8 574.3 590.8" y="2748.48" font-size="33" class="b">7,506</text>
<text x="681 701.62 714 730.5 747" y="2748.76" font-size="33" class="b">2,893</text>
<circle cx="846.3" cy="2746.31" r="2.3"/>
<circle cx="861.8" cy="2746.31" r="2.3"/>
<circle cx="972.3" cy="2746.54" r="2.3"/>
<circle cx="987.8" cy="2746.54" r="2.3"/>
<text x="1066.8 1087.42 1099.8 1116.3 1132.8" y="2749.46" font-size="33" class="b">4,369</text>
<text x="1240 1256.5 1273" y="2749.71" font-size="33" class="b">686</text>
<text x="1332.5 1353.12 1365.5 1382 1398.5" y="2749.94" font-size="33" class="b">1,647</text>
<text x="1489.6 1506.1 1522.6" y="2750.16" font-size="33" class="b">543</text>
<text x="1596.3 1612.8 1633.42 1645.8 1662.3 1678.8" y="2750.44" font-size="33" class="b">17,644</text>
<text x="1755 1775.62 1788 1804.5 1821" y="2750.7" font-size="33" class="b">9,577</text>
<text x="1911.8 1932.42 1944.8 1961.3 1977.8" y="2750.98" font-size="33" class="b">2,527</text>
<text x="241" y="2781.12" font-size="33" textLength="180.3" lengthAdjust="spacingAndGlyphs" class="b">Marlborough</text>
<circle cx="444.3" cy="2778.89" r="2.3"/>
<circle cx="459.8" cy="2778.89" r="2.3"/>
<text x="508.3 524.8 545.42 557.8 574.3 590.8" y="2781.78" font-size="33" class="b">11,120</text>
<text x="664.5 681 701.62 714 730.5 747" y="2782.06" font-size="33" class="b">37,133</text>
<circle cx="846.3" cy="2779.61" r="2.3"/>
<circle cx="861.8" cy="2779.61" r="2.3"/>
<circle cx="972.3" cy="2779.84" r="2.3"/>
<circle cx="987.8" cy="2779.84" r="2.3"/>
<text x="1066.8 1087.42 1099.8 1116.3 1132.8" y="2782.76" font-size="33" class="b">7,803</text>
<text x="1240 1256.5 1273" y="2783.01" font-size="33" class="b">602</text>
<circle cx="1372.3" cy="2780.56" r="2.3"/>
<circle cx="1387.8" cy="2780.56" r="2.3"/>
<text x="1489.6 1506.1 1522.6" y="2783.46" font-size="33" class="b">807</text>
<text x="1596.3 1612.8 1633.42 1645.8 1662.3 1678.8" y="2783.74" font-size="33" class="b">57,465</text>
<text x="1755 1775.62 1788 1804.5 1821" y="2784" font-size="33" class="b">4,487</text>
<text x="1911.8 1932.42 1944.8 1961.3 1977.8" y="2784.28" font-size="33" class="b">4,860</text>
<text x="241" y="2814.42" font-size="33" textLength="134.2" lengthAdjust="spacingAndGlyphs" class="b">Westland</text>
<circle cx="444.3" cy="2812.19" r="2.3"/>
<circle cx="459.8" cy="2812.19" r="2.3"/>
<text x="524.8 545.42 557.8 574.3 590.8" y="2815.08" font-size="33" class="b">6,838</text>
<text x="714 730.5 747" y="2815.36" font-size="33" class="b">414</text>
<circle cx="846.3" cy="2812.91" r="2.3"/>
<circle cx="861.8" cy="2812.91" r="2.3"/>
<circle cx="972.3" cy="2813.14" r="2.3"/>
<circle cx="987.8" cy="2813.14" r="2.3"/>
<text x="1050.3 1066.8 1087.42 1099.8 1116.3 1132.8" y="2816.06" font-size="33" class="b">14,076</text>
<text x="1240 1256.5 1273" y="2816.31" font-size="33" class="b">699</text>
<text x="1398.5" y="2816.54" font-size="33" class="b">9</text>
<text x="1489.6 1506.1 1522.6" y="2816.76" font-size="33" class="b">840</text>
<text x="1596.3 1612.8 1633.42 1645.8 1662.3 1678.8" y="2817.04" font-size="33" class="b">22,876</text>
<text x="1755 1775.62 1788 1804.5 1821" y="2817.3" font-size="33" class="b">1,493</text>
<text x="1944.8 1961.3 1977.8" y="2817.58" font-size="33" class="b">235</text>
<text x="241" y="2847.72" font-size="33" textLength="160.9" lengthAdjust="spacingAndGlyphs" class="b">Canterbury</text>
<circle cx="444.3" cy="2845.49" r="2.3"/>
<circle cx="459.8" cy="2845.49" r="2.3"/>
<text x="508.3 524.8 545.42 557.8 574.3 590.8" y="2848.38" font-size="33" class="b">32,704</text>
<text x="648 664.5 681 701.62 714 730.5 747" y="2848.66" font-size="33" class="b">154,420</text>
<circle cx="846.3" cy="2846.21" r="2.3"/>
<circle cx="861.8" cy="2846.21" r="2.3"/>
<text x="912.8 929.3 949.92 962.3 978.8 995.3" y="2849.11" font-size="33" class="b">17,050</text>
<text x="1050.3 1066.8 1087.42 1099.8 1116.3 1132.8" y="2849.36" font-size="33" class="b">39,720</text>
<text x="1190.5 1207 1227.62 1240 1256.5 1273" y="2849.61" font-size="33" class="b">30,034</text>
<text x="1332.5 1353.12 1365.5 1382 1398.5" y="2849.84" font-size="33" class="b">1,853</text>
<text x="1489.6 1506.1 1522.6" y="2850.06" font-size="33" class="b">578</text>
<text x="1579.8 1596.3 1612.8 1633.42 1645.8 1662.3 1678.8" y="2850.34" font-size="33" class="b">276,359</text>
<text x="1738.5 1755 1775.62 1788 1804.5 1821" y="2850.6" font-size="33" class="b">55,065</text>
<text x="1895.3 1911.8 1932.42 1944.8 1961.3 1977.8" y="2850.88" font-size="33" class="b">40,802</text>
<text x="241" y="2881.02" font-size="33" textLength="84.1" lengthAdjust="spacingAndGlyphs" class="b">Otago</text>
<circle cx="444.3" cy="2878.79" r="2.3"/>
<circle cx="459.8" cy="2878.79" r="2.3"/>
<text x="508.3 524.8 545.42 557.8 574.3 590.8" y="2881.68" font-size="33" class="b">40,330</text>
<text x="664.5 681 701.62 714 730.5 747" y="2881.96" font-size="33" class="b">73,425</text>
<circle cx="846.3" cy="2879.51" r="2.3"/>
<circle cx="861.8" cy="2879.51" r="2.3"/>
<circle cx="972.3" cy="2879.74" r="2.3"/>
<circle cx="987.8" cy="2879.74" r="2.3"/>
<text x="1050.3 1066.8 1087.42 1099.8 1116.3 1132.8" y="2882.66" font-size="33" class="b">41,296</text>
<text x="1207 1227.62 1240 1256.5 1273" y="2882.91" font-size="33" class="b">6,732</text>
<text x="1332.5 1353.12 1365.5 1382 1398.5" y="2883.14" font-size="33" class="b">7,359</text>
<text x="1456.6 1477.22 1489.6 1506.1 1522.6" y="2883.36" font-size="33" class="b">1,898</text>
<text x="1579.8 1596.3 1612.8 1633.42 1645.8 1662.3 1678.8" y="2883.64" font-size="33" class="b">171,040</text>
<text x="1755 1775.62 1788 1804.5 1821" y="2883.9" font-size="33" class="b">7,235</text>
<text x="1895.3 1911.8 1932.42 1944.8 1961.3 1977.8" y="2884.18" font-size="33" class="b">12,839</text>
<text x="241" y="2914.32" font-size="33" textLength="144.2" lengthAdjust="spacingAndGlyphs" class="b">Southland</text>
<circle cx="444.3" cy="2912.09" r="2.3"/>
<circle cx="459.8" cy="2912.09" r="2.3"/>
<text x="508.3 524.8 545.42 557.8 574.3 590.8" y="2914.98" font-size="33" class="b">13,499</text>
<text x="664.5 681 701.62 714 730.5 747" y="2915.26" font-size="33" class="b">17,588</text>
<circle cx="846.3" cy="2912.81" r="2.3"/>
<circle cx="861.8" cy="2912.81" r="2.3"/>
<circle cx="972.3" cy="2913.04" r="2.3"/>
<circle cx="987.8" cy="2913.04" r="2.3"/>
<text x="1066.8 1087.42 1099.8 1116.3 1132.8" y="2915.96" font-size="33" class="b">6,245</text>
<text x="1190.5 1207 1227.62 1240 1256.5 1273" y="2916.21" font-size="33" class="b">20,495</text>
<text x="1332.5 1353.12 1365.5 1382 1398.5" y="2916.44" font-size="33" class="b">2,654</text>
<text x="1489.6 1506.1 1522.6" y="2916.66" font-size="33" class="b">649</text>
<text x="1596.3 1612.8 1633.42 1645.8 1662.3 1678.8" y="2916.94" font-size="33" class="b">61,130</text>
<text x="1755 1775.62 1788 1804.5 1821" y="2917.2" font-size="33" class="b">2,872</text>
<text x="1911.8 1932.42 1944.8 1961.3 1977.8" y="2917.48" font-size="33" class="b">3,975</text>
<text x="306" y="2981.24" font-size="33" textLength="90.2" lengthAdjust="spacingAndGlyphs" class="b">Totals</text>
<circle cx="444.3" cy="2978.89" r="2.3"/>
<circle cx="459.8" cy="2978.89" r="2.3"/>
<text x="491.8 508.3 524.8 545.42 557.8 574.3 590.8" y="2981.78" font-size="33" class="b">351,825</text>
<text x="648 664.5 681 701.62 714 730.5 747" y="2982.06" font-size="33" class="b">514,920</text>
<text x="789.3 805.8 826.42 838.8 855.3 871.8" y="2982.29" font-size="33" class="b">23,568</text>
<text x="912.8 929.3 949.92 962.3 978.8 995.3" y="2982.51" font-size="33" class="b">17,050</text>
<text x="1033.8 1050.3 1066.8 1087.42 1099.8 1116.3 1132.8" y="2982.76" font-size="33" class="b">147,154</text>
<text x="1174 1190.5 1207 1227.62 1240 1256.5 1273" y="2983.01" font-size="33" class="b">125,368</text>
<text x="1316 1332.5 1353.12 1365.5 1382 1398.5" y="2983.24" font-size="33" class="b">18,193</text>
<text x="1440.1 1456.6 1477.22 1489.6 1506.1 1522.6" y="2983.46" font-size="33" class="b">47,260</text>
<text x="1559.8 1577.17 1586.3 1602.8 1619.3 1636.67 1645.8 1662.3 1678.8" y="2983.74" font-size="33" class="b">1,245,338</text>
<text x="1722 1738.5 1755 1775.62 1788 1804.5 1821" y="2984" font-size="33" class="b">227,191</text>
<text x="1878.8 1895.3 1911.8 1932.42 1944.8 1961.3 1977.8" y="2984.28" font-size="33" class="b">166,959</text>
<polygon points="490,2940.07 1990,2942.77 1990,2944.77 490,2942.07"/>
<polygon points="244,3026.58 1990,3029.72 1990,3031.42 244,3028.28"/>
<line class="v" x1="490.5" y1="2462" x2="490.5" y2="3006" stroke="#000" stroke-width="1" stroke-dasharray="200 4 100 4"/>
<line class="v" x1="629.5" y1="2462" x2="629.5" y2="3006" stroke="#000" stroke-width="1" stroke-dasharray="150 4 200 4"/>
<line class="v" x1="786.5" y1="2462" x2="786.5" y2="3006" stroke="#000" stroke-width="1" stroke-dasharray="60 4 100 4"/>
<line class="v" x1="908.5" y1="2462" x2="908.5" y2="3006" stroke="#000" stroke-width="1" stroke-dasharray="300 4 100 4"/>
<line class="v" x1="1032.5" y1="2462" x2="1032.5" y2="3006" stroke="#000" stroke-width="1" stroke-dasharray="100 4 200 4"/>
<line class="v" x1="1171.5" y1="2462" x2="1171.5" y2="3006" stroke="#000" stroke-width="1" stroke-dasharray="40 4 80 4"/>
<line class="v" x1="1312.5" y1="2462" x2="1312.5" y2="3006" stroke="#000" stroke-width="1" stroke-dasharray="200 4 60 4"/>
<line class="v" x1="1436.5" y1="2462" x2="1436.5" y2="3006" stroke="#000" stroke-width="1" stroke-dasharray="80 4 150 4"/>
<line class="v" x1="1560.5" y1="2462" x2="1560.5" y2="3006" stroke="#000" stroke-width="1" stroke-dasharray="120 4 40 4"/>
<line class="v" x1="1716.5" y1="2462" x2="1716.5" y2="3006" stroke="#000" stroke-width="1" stroke-dasharray="300 4 200 4"/>
<line class="v" x1="1858.5" y1="2462" x2="1858.5" y2="3006" stroke="#000" stroke-width="1" stroke-dasharray="100 4 100 4"/>
<text x="626" y="3148" font-size="27.5" font-style="italic" textLength="322.5" lengthAdjust="spacingAndGlyphs" class="l">Approximate Cost of Paper.</text>
<text x="948.5" y="3148" font-size="27.5" textLength="316.7" lengthAdjust="spacingAndGlyphs" class="l">—Preparation not given ;</text>
<text x="1288.5" y="3148" font-size="27.5" textLength="317" lengthAdjust="spacingAndGlyphs" class="l">printing (800 copies), <tspan font-weight="bold">£54.</tspan></text>
<rect x="704" y="3262.2" width="831" height="1.6"/>
<text x="566" y="3303.5" font-size="33" textLength="206" lengthAdjust="spacingAndGlyphs" class="l">By <tspan font-weight="bold">Authority :</tspan></text>
<text x="806.3" y="3303.5" font-size="33" font-weight="bold" textLength="118.2" lengthAdjust="spacingAndGlyphs" class="l">W. A. G.</text>
<text x="944.5" y="3303.5" font-size="33" textLength="128.2" lengthAdjust="spacingAndGlyphs" class="l"><tspan font-weight="bold">S</tspan><tspan font-weight="bold" font-size="24">KINN</tspan><tspan font-size="22">ER</tspan>,</text>
<text x="1082.7" y="3303.5" font-size="33" textLength="465.8" lengthAdjust="spacingAndGlyphs" class="l">Government Printer, Wellington.</text>
<text x="1548.5" y="3303.5" font-size="33" font-weight="bold" textLength="126.2" lengthAdjust="spacingAndGlyphs" class="l">—1927.</text>
<text x="248" y="3352" font-size="33" font-style="italic" textLength="134" lengthAdjust="spacingAndGlyphs" class="l">Price 1s.]</text>
</g>
</svg>
</body></html>
